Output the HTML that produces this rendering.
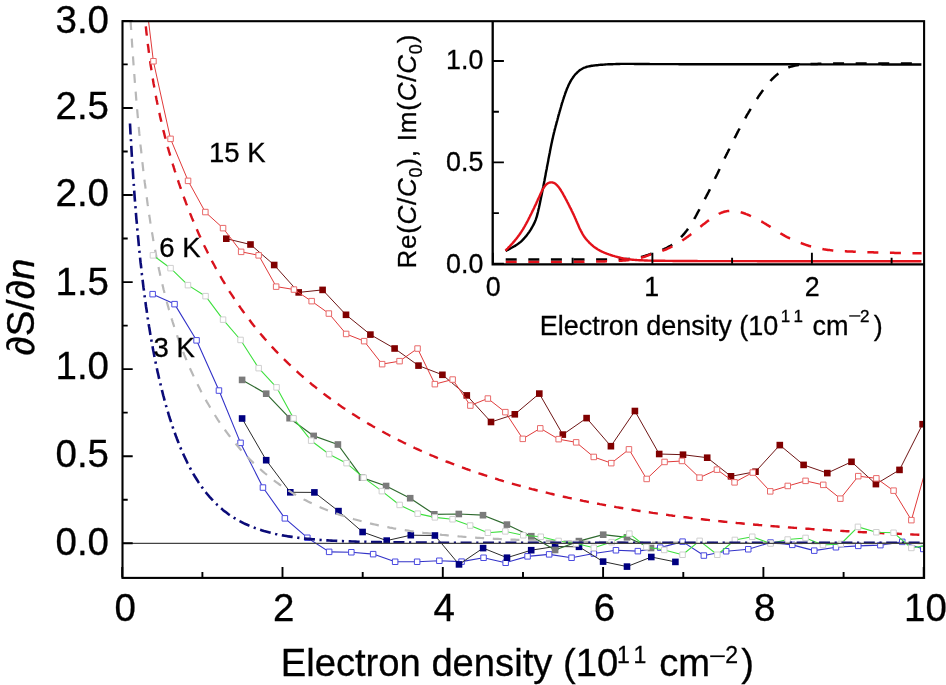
<!DOCTYPE html>
<html><head><meta charset="utf-8"><style>
html,body{margin:0;padding:0;width:946px;height:685px;overflow:hidden;background:#fff}
svg text{stroke:#000;stroke-width:0.3px;paint-order:fill}
</style></head><body>
<svg width="946" height="685" viewBox="0 0 946 685" style="position:absolute;left:0;top:0;will-change:transform"><rect width="946" height="685" fill="#fff"/><defs><clipPath id="cp"><rect x="122.2" y="21.0" width="801.5999999999999" height="556.4"/></clipPath><clipPath id="ci"><rect x="492.9" y="21.0" width="430.9" height="242.8"/></clipPath></defs><g clip-path="url(#cp)" fill="none" stroke-linejoin="round"><polyline points="152.7,294.2 174.6,304.1 196.5,340.3 219.0,390.5 240.5,442.9 263.0,487.5 284.9,518.4 307.3,537.7 329.2,551.9 351.4,552.2 373.2,554.1 395.1,561.8 417.2,561.8 439.3,560.8 461.5,561.6 483.5,557.7 505.6,562.7 527.5,556.4 549.1,554.4 571.5,557.7 593.9,553.5 616.0,550.2 637.9,551.1 660.3,547.6 682.5,541.6 703.9,555.5 726.1,551.2 748.3,549.2 770.5,542.5 792.3,544.9 814.2,550.6 836.0,547.2 858.3,545.9 880.4,545.1 902.2,541.9 923.2,549.0" stroke="#3333c8" stroke-width="1.1"/><g fill="#fff" stroke="#4a4ae0" stroke-width="1"><rect x="149.9" y="291.4" width="5.5" height="5.5"/><rect x="171.8" y="301.4" width="5.5" height="5.5"/><rect x="193.8" y="337.6" width="5.5" height="5.5"/><rect x="216.2" y="387.8" width="5.5" height="5.5"/><rect x="237.8" y="440.1" width="5.5" height="5.5"/><rect x="260.2" y="484.8" width="5.5" height="5.5"/><rect x="282.1" y="515.6" width="5.5" height="5.5"/><rect x="304.6" y="535.0" width="5.5" height="5.5"/><rect x="326.4" y="549.1" width="5.5" height="5.5"/><rect x="348.6" y="549.5" width="5.5" height="5.5"/><rect x="370.4" y="551.4" width="5.5" height="5.5"/><rect x="392.4" y="559.0" width="5.5" height="5.5"/><rect x="414.4" y="559.0" width="5.5" height="5.5"/><rect x="436.6" y="558.0" width="5.5" height="5.5"/><rect x="458.8" y="558.9" width="5.5" height="5.5"/><rect x="480.8" y="555.0" width="5.5" height="5.5"/><rect x="502.9" y="560.0" width="5.5" height="5.5"/><rect x="524.8" y="553.6" width="5.5" height="5.5"/><rect x="546.4" y="551.6" width="5.5" height="5.5"/><rect x="568.8" y="555.0" width="5.5" height="5.5"/><rect x="591.1" y="550.8" width="5.5" height="5.5"/><rect x="613.2" y="547.5" width="5.5" height="5.5"/><rect x="635.1" y="548.4" width="5.5" height="5.5"/><rect x="657.5" y="544.9" width="5.5" height="5.5"/><rect x="679.8" y="538.9" width="5.5" height="5.5"/><rect x="701.1" y="552.8" width="5.5" height="5.5"/><rect x="723.4" y="548.5" width="5.5" height="5.5"/><rect x="745.5" y="546.5" width="5.5" height="5.5"/><rect x="767.8" y="539.8" width="5.5" height="5.5"/><rect x="789.5" y="542.1" width="5.5" height="5.5"/><rect x="811.5" y="547.9" width="5.5" height="5.5"/><rect x="833.2" y="544.5" width="5.5" height="5.5"/><rect x="855.5" y="543.1" width="5.5" height="5.5"/><rect x="877.6" y="542.4" width="5.5" height="5.5"/><rect x="899.5" y="539.1" width="5.5" height="5.5"/><rect x="920.5" y="546.2" width="5.5" height="5.5"/></g><polyline points="242.1,418.5 266.2,460.2 290.3,492.3 314.4,492.4 338.5,511.1 362.6,532.0 386.7,540.6 410.8,535.2 434.9,535.5 459.0,564.4 483.1,548.1 507.0,557.7 531.2,550.2 555.1,546.5 579.0,546.8 603.1,561.6 627.0,566.6 651.3,557.0 675.4,561.9" stroke="#2a2a2a" stroke-width="1"/><g fill="#000080" stroke="none"><rect x="238.8" y="415.2" width="6.6" height="6.6"/><rect x="262.9" y="456.9" width="6.6" height="6.6"/><rect x="287.0" y="489.0" width="6.6" height="6.6"/><rect x="311.1" y="489.1" width="6.6" height="6.6"/><rect x="335.2" y="507.8" width="6.6" height="6.6"/><rect x="359.3" y="528.7" width="6.6" height="6.6"/><rect x="383.4" y="537.3" width="6.6" height="6.6"/><rect x="407.5" y="531.9" width="6.6" height="6.6"/><rect x="431.6" y="532.2" width="6.6" height="6.6"/><rect x="455.7" y="561.1" width="6.6" height="6.6"/><rect x="479.8" y="544.8" width="6.6" height="6.6"/><rect x="503.7" y="554.4" width="6.6" height="6.6"/><rect x="527.9" y="546.9" width="6.6" height="6.6"/><rect x="551.8" y="543.2" width="6.6" height="6.6"/><rect x="575.7" y="543.5" width="6.6" height="6.6"/><rect x="599.8" y="558.3" width="6.6" height="6.6"/><rect x="623.7" y="563.3" width="6.6" height="6.6"/><rect x="648.0" y="553.7" width="6.6" height="6.6"/><rect x="672.1" y="558.6" width="6.6" height="6.6"/></g><path d="M130.6,21.0 L130.9,26.2 L131.3,31.2 L131.6,36.1 L131.9,41.0 L132.2,45.8 L132.6,50.5 L132.9,55.1 L133.2,59.7 L133.5,64.1 L133.9,68.5 L134.2,72.8 L134.5,77.1 L134.8,81.3 L135.1,85.4 L135.5,89.4 L135.8,93.4 L136.1,97.3 L136.4,101.2 L136.8,105.0 L137.1,108.7 L137.4,112.4 L137.7,116.0 L138.1,119.5 L138.4,123.0 L138.7,126.5 L139.0,129.9 L139.3,133.2 L139.7,136.5 L140.0,139.7 L140.3,142.9 L140.6,146.1 L141.0,149.2 L141.3,152.2 L141.6,155.2 L141.9,158.2 L142.2,161.1 L142.6,163.9 L142.9,166.8 L143.2,169.6 L143.5,172.3 L143.9,175.0 L144.2,177.7 L144.5,180.3 L144.8,182.9 L145.2,185.5 L145.5,188.0 L145.8,190.5 L146.1,193.0 L146.4,195.4 L146.8,197.8 L147.1,200.1 L147.4,202.5 L147.7,204.7 L148.1,207.0 L148.4,209.2 L148.7,211.5 L149.0,213.6 L149.3,215.8 L149.7,217.9 L150.0,220.0 L150.3,222.1 L150.6,224.1 L151.0,226.1 L151.3,228.1 L151.6,230.1 L151.9,232.0 L152.3,233.9 L152.6,235.8 L152.9,237.7 L153.2,239.6 L153.5,241.4 L153.9,243.2 L154.2,245.0 L154.5,246.8 L154.8,248.5 L155.2,250.2 L155.5,251.9 L155.8,253.6 L156.1,255.3 L156.4,256.9 L156.8,258.6 L157.1,260.2 L157.4,261.8 L157.7,263.4 L158.1,264.9 L158.4,266.5 L158.7,268.0 L159.0,269.5 L159.4,271.0 L159.7,272.5 L160.0,274.0 L160.3,275.4 L160.6,276.8 L161.0,278.3 L161.3,279.7 L161.6,281.1 L161.9,282.5 L162.3,283.8 L162.6,285.2 L162.9,286.5 L163.2,287.8 L163.5,289.2 L163.9,290.5 L164.2,291.8 L164.5,293.0 L164.8,294.3 L165.2,295.6 L165.5,296.8 L165.8,298.0 L166.1,299.3 L166.5,300.5 L166.8,301.7 L167.1,302.9 L167.4,304.1 L167.7,305.2 L168.1,306.4 L168.4,307.5 L168.7,308.7 L169.0,309.8 L169.4,310.9 L169.7,312.1 L170.0,313.2 L170.3,314.3 L170.6,315.3 L171.0,316.4 L171.3,317.5 L171.6,318.5 L171.9,319.6 L172.3,320.6 L172.6,321.7 L172.9,322.7 L173.2,323.7 L173.6,324.8 L173.9,325.8 L174.2,326.8 L174.5,327.7 L174.8,328.7 L175.2,329.7 L175.5,330.7 L175.8,331.6 L176.1,332.6 L176.5,333.6 L176.8,334.5 L177.1,335.4 L177.4,336.4 L177.7,337.3 L178.1,338.2 L178.4,339.1 L178.7,340.0 L180.6,345.1 L182.5,350.1 L184.3,354.8 L186.2,359.4 L188.1,363.9 L189.9,368.2 L191.8,372.3 L193.7,376.4 L195.5,380.3 L197.4,384.1 L199.3,387.8 L201.1,391.4 L203.0,394.9 L204.9,398.3 L206.7,401.6 L208.6,404.8 L210.5,408.0 L212.3,411.1 L214.2,414.0 L216.1,417.0 L217.9,419.8 L219.8,422.6 L221.7,425.3 L223.5,427.9 L225.4,430.5 L227.3,433.1 L229.1,435.5 L231.0,437.9 L232.9,440.3 L234.7,442.6 L236.6,444.8 L238.5,447.0 L240.3,449.2 L242.2,451.2 L244.1,453.3 L245.9,455.3 L247.8,457.3 L249.7,459.2 L251.5,461.0 L253.4,462.9 L255.3,464.6 L257.1,466.4 L259.0,468.1 L260.9,469.8 L262.7,471.4 L264.6,473.0 L266.5,474.5 L268.3,476.1 L270.2,477.6 L272.1,479.0 L273.9,480.4 L275.8,481.8 L277.7,483.2 L279.5,484.5 L281.4,485.8 L283.3,487.1 L285.1,488.3 L287.0,489.6 L288.9,490.8 L290.7,491.9 L292.6,493.1 L294.5,494.2 L296.3,495.3 L298.2,496.3 L300.1,497.4 L301.9,498.4 L303.8,499.4 L305.7,500.3 L307.5,501.3 L309.4,502.2 L311.3,503.1 L313.2,504.0 L315.0,504.9 L316.9,505.7 L318.8,506.6 L320.6,507.4 L322.5,508.2 L324.4,509.0 L326.2,509.7 L328.1,510.5 L330.0,511.2 L331.8,511.9 L333.7,512.6 L335.6,513.3 L337.4,513.9 L339.3,514.6 L341.2,515.2 L343.0,515.8 L344.9,516.4 L346.8,517.0 L348.6,517.6 L350.5,518.2 L352.4,518.7 L354.2,519.3 L356.1,519.8 L358.0,520.3 L359.8,520.8 L361.7,521.3 L363.6,521.8 L365.4,522.3 L367.3,522.8 L369.2,523.2 L371.0,523.7 L372.9,524.1 L374.8,524.5 L376.6,524.9 L378.5,525.3 L380.4,525.7 L382.2,526.1 L384.1,526.5 L386.0,526.9 L387.8,527.2 L389.7,527.6 L391.6,527.9 L393.4,528.3 L395.3,528.6 L397.2,528.9 L399.0,529.2 L400.9,529.5 L402.8,529.8 L404.6,530.1 L406.5,530.4 L408.4,530.7 L410.2,531.0 L412.1,531.3 L414.0,531.5 L415.8,531.8 L417.7,532.0 L419.6,532.3 L421.4,532.5 L423.3,532.8 L425.2,533.0 L427.0,533.2 L428.9,533.4 L430.8,533.7 L432.6,533.9 L434.5,534.1 L436.4,534.3 L438.2,534.5 L440.1,534.7 L442.0,534.9 L443.8,535.0 L445.7,535.2 L447.6,535.4 L449.5,535.6 L451.3,535.7 L453.2,535.9 L455.1,536.1 L456.9,536.2 L458.8,536.4 L460.7,536.5 L462.5,536.7 L464.4,536.8 L466.3,537.0 L468.1,537.1 L470.0,537.2 L471.9,537.4 L473.7,537.5 L475.6,537.6 L477.5,537.8 L479.3,537.9 L481.2,538.0 L483.1,538.1 L484.9,538.2 L486.8,538.3 L488.7,538.4 L490.5,538.5 L492.4,538.6 L494.3,538.8 L496.1,538.8 L498.0,538.9 L499.9,539.0 L501.7,539.1 L503.6,539.2 L505.5,539.3 L507.3,539.4 L509.2,539.5 L511.1,539.6 L512.9,539.6 L514.8,539.7 L516.7,539.8 L518.5,539.9 L520.4,539.9 L522.3,540.0 L524.1,540.1 L526.0,540.2 L527.9,540.2 L529.7,540.3 L531.6,540.4 L533.5,540.4 L535.3,540.5 L537.2,540.5 L539.1,540.6 L540.9,540.7 L542.8,540.7 L544.7,540.8 L546.5,540.8 L548.4,540.9 L550.3,540.9 L552.1,541.0 L554.0,541.0 L555.9,541.1 L557.7,541.1 L559.6,541.2 L561.5,541.2 L563.3,541.3 L565.2,541.3 L567.1,541.3 L568.9,541.4 L570.8,541.4 L572.7,541.5 L574.5,541.5 L576.4,541.5 L578.3,541.6 L580.1,541.6 L582.0,541.6 L583.9,541.7 L585.8,541.7 L587.6,541.8 L589.5,541.8 L591.4,541.8 L593.2,541.8 L595.1,541.9 L597.0,541.9 L598.8,541.9 L600.7,542.0 L602.6,542.0 L604.4,542.0 L606.3,542.0 L608.2,542.1 L610.0,542.1 L611.9,542.1 L613.8,542.1 L615.6,542.2 L617.5,542.2 L619.4,542.2 L621.2,542.2 L623.1,542.3 L625.0,542.3 L626.8,542.3 L628.7,542.3 L630.6,542.3 L632.4,542.4 L634.3,542.4 L636.2,542.4 L638.0,542.4 L639.9,542.4 L641.8,542.4 L643.6,542.5 L645.5,542.5 L647.4,542.5 L649.2,542.5 L651.1,542.5 L653.0,542.5 L654.8,542.6 L656.7,542.6 L658.6,542.6 L660.4,542.6 L662.3,542.6 L664.2,542.6 L666.0,542.6 L667.9,542.6 L669.8,542.7 L671.6,542.7 L673.5,542.7 L675.4,542.7 L677.2,542.7 L679.1,542.7 L681.0,542.7 L682.8,542.7 L684.7,542.7 L686.6,542.8 L688.4,542.8 L690.3,542.8 L692.2,542.8 L694.0,542.8 L695.9,542.8 L697.8,542.8 L699.6,542.8 L701.5,542.8 L703.4,542.8 L705.2,542.8 L707.1,542.9 L709.0,542.9 L710.8,542.9 L712.7,542.9 L714.6,542.9 L716.4,542.9 L718.3,542.9 L720.2,542.9 L722.1,542.9 L723.9,542.9 L725.8,542.9 L727.7,542.9 L729.5,542.9 L731.4,542.9 L733.3,542.9 L735.1,543.0 L737.0,543.0 L738.9,543.0 L740.7,543.0 L742.6,543.0 L744.5,543.0 L746.3,543.0 L748.2,543.0 L750.1,543.0 L751.9,543.0 L753.8,543.0 L755.7,543.0 L757.5,543.0 L759.4,543.0 L761.3,543.0 L763.1,543.0 L765.0,543.0 L766.9,543.0 L768.7,543.0 L770.6,543.0 L772.5,543.0 L774.3,543.0 L776.2,543.0 L778.1,543.1 L779.9,543.1 L781.8,543.1 L783.7,543.1 L785.5,543.1 L787.4,543.1 L789.3,543.1 L791.1,543.1 L793.0,543.1 L794.9,543.1 L796.7,543.1 L798.6,543.1 L800.5,543.1 L802.3,543.1 L804.2,543.1 L806.1,543.1 L807.9,543.1 L809.8,543.1 L811.7,543.1 L813.5,543.1 L815.4,543.1 L817.3,543.1 L819.1,543.1 L821.0,543.1 L822.9,543.1 L824.7,543.1 L826.6,543.1 L828.5,543.1 L830.3,543.1 L832.2,543.1 L834.1,543.1 L835.9,543.1 L837.8,543.1 L839.7,543.1 L841.5,543.1 L843.4,543.1 L845.3,543.1 L847.1,543.1 L849.0,543.1 L850.9,543.1 L852.7,543.1 L854.6,543.1 L856.5,543.1 L858.4,543.1 L860.2,543.1 L862.1,543.1 L864.0,543.1 L865.8,543.1 L867.7,543.1 L869.6,543.2 L871.4,543.2 L873.3,543.2 L875.2,543.2 L877.0,543.2 L878.9,543.2 L880.8,543.2 L882.6,543.2 L884.5,543.2 L886.4,543.2 L888.2,543.2 L890.1,543.2 L892.0,543.2 L893.8,543.2 L895.7,543.2 L897.6,543.2 L899.4,543.2 L901.3,543.2 L903.2,543.2 L905.0,543.2 L906.9,543.2 L908.8,543.2 L910.6,543.2 L912.5,543.2 L914.4,543.2 L916.2,543.2 L918.1,543.2 L920.0,543.2 L921.8,543.2 L923.7,543.2" stroke="#b8b8b8" stroke-width="2.2" stroke-dasharray="9 8.7"/><path d="M145.2,21.0 L145.6,24.1 L145.9,27.2 L146.2,30.2 L146.5,33.1 L146.9,35.9 L147.2,38.7 L147.5,41.4 L147.8,44.1 L148.2,46.7 L148.5,49.2 L148.8,51.7 L149.1,54.1 L149.4,56.5 L149.8,58.8 L150.1,61.1 L150.4,63.4 L150.7,65.6 L151.1,67.8 L151.4,69.9 L151.7,72.0 L152.0,74.0 L152.3,76.0 L152.7,78.0 L153.0,80.0 L153.3,81.9 L153.6,83.8 L154.0,85.6 L154.3,87.4 L154.6,89.2 L154.9,91.0 L155.3,92.8 L155.6,94.5 L155.9,96.2 L156.2,97.9 L156.5,99.5 L156.9,101.1 L157.2,102.8 L157.5,104.3 L157.8,105.9 L158.2,107.5 L158.5,109.0 L158.8,110.5 L159.1,112.0 L159.5,113.5 L159.8,114.9 L160.1,116.4 L160.4,117.8 L160.7,119.2 L161.1,120.6 L161.4,122.0 L161.7,123.4 L162.0,124.8 L162.4,126.1 L162.7,127.4 L163.0,128.8 L163.3,130.1 L163.6,131.4 L164.0,132.7 L164.3,133.9 L164.6,135.2 L164.9,136.5 L165.3,137.7 L165.6,138.9 L165.9,140.2 L166.2,141.4 L166.6,142.6 L166.9,143.8 L167.2,145.0 L167.5,146.1 L167.8,147.3 L168.2,148.5 L168.5,149.6 L168.8,150.8 L169.1,151.9 L169.5,153.0 L169.8,154.1 L170.1,155.3 L170.4,156.4 L170.7,157.5 L171.1,158.6 L171.4,159.6 L171.7,160.7 L172.0,161.8 L172.4,162.8 L172.7,163.9 L173.0,165.0 L173.3,166.0 L173.7,167.0 L174.0,168.1 L174.3,169.1 L174.6,170.1 L174.9,171.1 L175.3,172.1 L175.6,173.1 L175.9,174.1 L176.2,175.1 L176.6,176.1 L176.9,177.1 L177.2,178.1 L177.5,179.1 L177.8,180.0 L178.2,181.0 L178.5,181.9 L178.8,182.9 L179.1,183.8 L179.5,184.8 L179.8,185.7 L180.1,186.6 L180.4,187.6 L180.8,188.5 L181.1,189.4 L181.4,190.3 L181.7,191.2 L182.0,192.1 L182.4,193.0 L182.7,193.9 L183.0,194.8 L183.3,195.7 L183.7,196.6 L184.0,197.5 L184.3,198.3 L184.6,199.2 L184.9,200.1 L185.3,200.9 L185.6,201.8 L185.9,202.7 L186.2,203.5 L186.6,204.4 L186.9,205.2 L187.2,206.0 L187.5,206.9 L187.9,207.7 L188.2,208.5 L188.5,209.4 L188.8,210.2 L189.1,211.0 L189.5,211.8 L189.8,212.6 L190.1,213.4 L190.4,214.2 L190.8,215.0 L191.1,215.8 L191.4,216.6 L191.7,217.4 L192.0,218.2 L192.4,219.0 L192.7,219.7 L193.0,220.5 L193.3,221.3 L195.2,225.6 L197.0,229.8 L198.8,233.9 L200.7,238.0 L202.5,241.9 L204.3,245.8 L206.2,249.5 L208.0,253.2 L209.8,256.8 L211.6,260.4 L213.5,263.8 L215.3,267.2 L217.1,270.5 L219.0,273.8 L220.8,277.0 L222.6,280.1 L224.5,283.2 L226.3,286.2 L228.1,289.2 L229.9,292.1 L231.8,294.9 L233.6,297.7 L235.4,300.5 L237.3,303.2 L239.1,305.8 L240.9,308.4 L242.8,311.0 L244.6,313.5 L246.4,316.0 L248.3,318.4 L250.1,320.8 L251.9,323.2 L253.7,325.5 L255.6,327.8 L257.4,330.1 L259.2,332.3 L261.1,334.5 L262.9,336.6 L264.7,338.7 L266.6,340.8 L268.4,342.9 L270.2,344.9 L272.0,346.9 L273.9,348.9 L275.7,350.8 L277.5,352.7 L279.4,354.6 L281.2,356.5 L283.0,358.3 L284.9,360.1 L286.7,361.9 L288.5,363.7 L290.4,365.4 L292.2,367.2 L294.0,368.9 L295.8,370.5 L297.7,372.2 L299.5,373.8 L301.3,375.4 L303.2,377.0 L305.0,378.6 L306.8,380.2 L308.7,381.7 L310.5,383.2 L312.3,384.8 L314.2,386.2 L316.0,387.7 L317.8,389.2 L319.6,390.6 L321.5,392.0 L323.3,393.4 L325.1,394.8 L327.0,396.2 L328.8,397.5 L330.6,398.9 L332.5,400.2 L334.3,401.5 L336.1,402.8 L337.9,404.1 L339.8,405.4 L341.6,406.7 L343.4,407.9 L345.3,409.1 L347.1,410.4 L348.9,411.6 L350.8,412.8 L352.6,413.9 L354.4,415.1 L356.3,416.3 L358.1,417.4 L359.9,418.6 L361.7,419.7 L363.6,420.8 L365.4,421.9 L367.2,423.0 L369.1,424.1 L370.9,425.1 L372.7,426.2 L374.6,427.3 L376.4,428.3 L378.2,429.3 L380.0,430.3 L381.9,431.3 L383.7,432.3 L385.5,433.3 L387.4,434.3 L389.2,435.3 L391.0,436.2 L392.9,437.2 L394.7,438.1 L396.5,439.1 L398.4,440.0 L400.2,440.9 L402.0,441.8 L403.8,442.7 L405.7,443.6 L407.5,444.5 L409.3,445.4 L411.2,446.2 L413.0,447.1 L414.8,448.0 L416.7,448.8 L418.5,449.6 L420.3,450.5 L422.1,451.3 L424.0,452.1 L425.8,452.9 L427.6,453.7 L429.5,454.5 L431.3,455.3 L433.1,456.0 L435.0,456.8 L436.8,457.6 L438.6,458.3 L440.5,459.1 L442.3,459.8 L444.1,460.5 L445.9,461.3 L447.8,462.0 L449.6,462.7 L451.4,463.4 L453.3,464.1 L455.1,464.8 L456.9,465.5 L458.8,466.2 L460.6,466.9 L462.4,467.5 L464.2,468.2 L466.1,468.9 L467.9,469.5 L469.7,470.2 L471.6,470.8 L473.4,471.4 L475.2,472.1 L477.1,472.7 L478.9,473.3 L480.7,473.9 L482.6,474.5 L484.4,475.1 L486.2,475.7 L488.0,476.3 L489.9,476.9 L491.7,477.5 L493.5,478.1 L495.4,478.6 L497.2,479.2 L499.0,479.8 L500.9,480.3 L502.7,480.9 L504.5,481.4 L506.4,482.0 L508.2,482.5 L510.0,483.0 L511.8,483.6 L513.7,484.1 L515.5,484.6 L517.3,485.1 L519.2,485.6 L521.0,486.1 L522.8,486.6 L524.7,487.1 L526.5,487.6 L528.3,488.1 L530.1,488.6 L532.0,489.1 L533.8,489.5 L535.6,490.0 L537.5,490.5 L539.3,490.9 L541.1,491.4 L543.0,491.8 L544.8,492.3 L546.6,492.7 L548.5,493.2 L550.3,493.6 L552.1,494.0 L553.9,494.5 L555.8,494.9 L557.6,495.3 L559.4,495.7 L561.3,496.2 L563.1,496.6 L564.9,497.0 L566.8,497.4 L568.6,497.8 L570.4,498.2 L572.2,498.6 L574.1,499.0 L575.9,499.4 L577.7,499.7 L579.6,500.1 L581.4,500.5 L583.2,500.9 L585.1,501.2 L586.9,501.6 L588.7,502.0 L590.6,502.3 L592.4,502.7 L594.2,503.0 L596.0,503.4 L597.9,503.7 L599.7,504.1 L601.5,504.4 L603.4,504.8 L605.2,505.1 L607.0,505.4 L608.9,505.8 L610.7,506.1 L612.5,506.4 L614.3,506.7 L616.2,507.1 L618.0,507.4 L619.8,507.7 L621.7,508.0 L623.5,508.3 L625.3,508.6 L627.2,508.9 L629.0,509.2 L630.8,509.5 L632.7,509.8 L634.5,510.1 L636.3,510.4 L638.1,510.7 L640.0,511.0 L641.8,511.2 L643.6,511.5 L645.5,511.8 L647.3,512.1 L649.1,512.3 L651.0,512.6 L652.8,512.9 L654.6,513.1 L656.5,513.4 L658.3,513.7 L660.1,513.9 L661.9,514.2 L663.8,514.4 L665.6,514.7 L667.4,514.9 L669.3,515.2 L671.1,515.4 L672.9,515.7 L674.8,515.9 L676.6,516.2 L678.4,516.4 L680.2,516.6 L682.1,516.9 L683.9,517.1 L685.7,517.3 L687.6,517.5 L689.4,517.8 L691.2,518.0 L693.1,518.2 L694.9,518.4 L696.7,518.6 L698.6,518.9 L700.4,519.1 L702.2,519.3 L704.0,519.5 L705.9,519.7 L707.7,519.9 L709.5,520.1 L711.4,520.3 L713.2,520.5 L715.0,520.7 L716.9,520.9 L718.7,521.1 L720.5,521.3 L722.3,521.5 L724.2,521.7 L726.0,521.9 L727.8,522.0 L729.7,522.2 L731.5,522.4 L733.3,522.6 L735.2,522.8 L737.0,523.0 L738.8,523.1 L740.7,523.3 L742.5,523.5 L744.3,523.7 L746.1,523.8 L748.0,524.0 L749.8,524.2 L751.6,524.3 L753.5,524.5 L755.3,524.7 L757.1,524.8 L759.0,525.0 L760.8,525.1 L762.6,525.3 L764.4,525.5 L766.3,525.6 L768.1,525.8 L769.9,525.9 L771.8,526.1 L773.6,526.2 L775.4,526.4 L777.3,526.5 L779.1,526.7 L780.9,526.8 L782.8,526.9 L784.6,527.1 L786.4,527.2 L788.2,527.4 L790.1,527.5 L791.9,527.6 L793.7,527.8 L795.6,527.9 L797.4,528.0 L799.2,528.2 L801.1,528.3 L802.9,528.4 L804.7,528.6 L806.5,528.7 L808.4,528.8 L810.2,528.9 L812.0,529.1 L813.9,529.2 L815.7,529.3 L817.5,529.4 L819.4,529.6 L821.2,529.7 L823.0,529.8 L824.9,529.9 L826.7,530.0 L828.5,530.1 L830.3,530.3 L832.2,530.4 L834.0,530.5 L835.8,530.6 L837.7,530.7 L839.5,530.8 L841.3,530.9 L843.2,531.0 L845.0,531.1 L846.8,531.2 L848.7,531.3 L850.5,531.5 L852.3,531.6 L854.1,531.7 L856.0,531.8 L857.8,531.9 L859.6,532.0 L861.5,532.1 L863.3,532.2 L865.1,532.2 L867.0,532.3 L868.8,532.4 L870.6,532.5 L872.4,532.6 L874.3,532.7 L876.1,532.8 L877.9,532.9 L879.8,533.0 L881.6,533.1 L883.4,533.2 L885.3,533.3 L887.1,533.3 L888.9,533.4 L890.8,533.5 L892.6,533.6 L894.4,533.7 L896.2,533.8 L898.1,533.8 L899.9,533.9 L901.7,534.0 L903.6,534.1 L905.4,534.2 L907.2,534.3 L909.1,534.3 L910.9,534.4 L912.7,534.5 L914.5,534.6 L916.4,534.6 L918.2,534.7 L920.0,534.8 L921.9,534.9 L923.7,534.9" stroke="#d8121c" stroke-width="2.4" stroke-dasharray="9.2 8.3" stroke-dashoffset="-5.5"/><polyline points="242.1,379.9 266.2,393.7 289.6,418.2 313.7,435.9 337.9,444.5 362.0,477.6 386.1,486.0 410.2,498.2 434.3,514.3 458.8,514.0 483.0,515.2 506.9,524.6 531.3,536.2 555.1,550.0 578.9,541.1 603.2,534.7 627.0,537.3 651.0,548.0" stroke="#2f6a2f" stroke-width="1.2"/><g fill="#7b7b7b" stroke="none"><rect x="238.8" y="376.6" width="6.6" height="6.6"/><rect x="262.9" y="390.4" width="6.6" height="6.6"/><rect x="286.3" y="414.9" width="6.6" height="6.6"/><rect x="310.4" y="432.6" width="6.6" height="6.6"/><rect x="334.6" y="441.2" width="6.6" height="6.6"/><rect x="358.7" y="474.3" width="6.6" height="6.6"/><rect x="382.8" y="482.7" width="6.6" height="6.6"/><rect x="406.9" y="494.9" width="6.6" height="6.6"/><rect x="431.0" y="511.0" width="6.6" height="6.6"/><rect x="455.5" y="510.7" width="6.6" height="6.6"/><rect x="479.7" y="511.9" width="6.6" height="6.6"/><rect x="503.6" y="521.3" width="6.6" height="6.6"/><rect x="528.0" y="532.9" width="6.6" height="6.6"/><rect x="551.8" y="546.7" width="6.6" height="6.6"/><rect x="575.6" y="537.8" width="6.6" height="6.6"/><rect x="599.9" y="531.4" width="6.6" height="6.6"/><rect x="623.7" y="534.0" width="6.6" height="6.6"/><rect x="647.7" y="544.7" width="6.6" height="6.6"/></g><polyline points="153.0,255.3 170.5,268.2 188.0,285.1 205.6,296.2 223.1,319.6 240.6,340.0 258.7,368.2 276.5,387.3 293.5,418.3 311.2,440.7 329.2,454.2 346.5,463.2 363.6,477.6 381.9,491.1 399.6,505.0 417.6,513.6 434.9,517.4 452.5,519.3 470.1,525.5 487.8,532.7 505.3,531.4 523.3,535.3 540.8,536.8 558.5,541.0 576.0,543.5 593.9,547.8 611.6,542.1 629.4,533.6 646.4,547.0 664.3,550.0 682.5,554.7 699.6,540.9 717.4,554.7 734.9,540.0 752.3,536.8 770.5,543.5 787.6,539.5 805.5,538.0 823.0,545.0 840.8,544.0 858.0,526.9 876.4,532.2 893.5,532.7 911.4,548.0 929.0,545.0" stroke="#3ee03e" stroke-width="1.1"/><g fill="#fff" stroke="#cfcfcf" stroke-width="1"><rect x="150.2" y="252.6" width="5.5" height="5.5"/><rect x="167.8" y="265.4" width="5.5" height="5.5"/><rect x="185.2" y="282.4" width="5.5" height="5.5"/><rect x="202.8" y="293.4" width="5.5" height="5.5"/><rect x="220.3" y="316.9" width="5.5" height="5.5"/><rect x="237.8" y="337.2" width="5.5" height="5.5"/><rect x="255.9" y="365.4" width="5.5" height="5.5"/><rect x="273.8" y="384.6" width="5.5" height="5.5"/><rect x="290.8" y="415.6" width="5.5" height="5.5"/><rect x="308.4" y="437.9" width="5.5" height="5.5"/><rect x="326.4" y="451.4" width="5.5" height="5.5"/><rect x="343.8" y="460.4" width="5.5" height="5.5"/><rect x="360.9" y="474.9" width="5.5" height="5.5"/><rect x="379.1" y="488.4" width="5.5" height="5.5"/><rect x="396.9" y="502.2" width="5.5" height="5.5"/><rect x="414.9" y="510.9" width="5.5" height="5.5"/><rect x="432.1" y="514.6" width="5.5" height="5.5"/><rect x="449.8" y="516.5" width="5.5" height="5.5"/><rect x="467.4" y="522.8" width="5.5" height="5.5"/><rect x="485.1" y="530.0" width="5.5" height="5.5"/><rect x="502.6" y="528.6" width="5.5" height="5.5"/><rect x="520.5" y="532.5" width="5.5" height="5.5"/><rect x="538.0" y="534.0" width="5.5" height="5.5"/><rect x="555.8" y="538.2" width="5.5" height="5.5"/><rect x="573.2" y="540.8" width="5.5" height="5.5"/><rect x="591.1" y="545.0" width="5.5" height="5.5"/><rect x="608.9" y="539.4" width="5.5" height="5.5"/><rect x="626.6" y="530.9" width="5.5" height="5.5"/><rect x="643.6" y="544.2" width="5.5" height="5.5"/><rect x="661.5" y="547.2" width="5.5" height="5.5"/><rect x="679.8" y="552.0" width="5.5" height="5.5"/><rect x="696.9" y="538.1" width="5.5" height="5.5"/><rect x="714.6" y="552.0" width="5.5" height="5.5"/><rect x="732.1" y="537.2" width="5.5" height="5.5"/><rect x="749.5" y="534.0" width="5.5" height="5.5"/><rect x="767.8" y="540.8" width="5.5" height="5.5"/><rect x="784.9" y="536.8" width="5.5" height="5.5"/><rect x="802.8" y="535.2" width="5.5" height="5.5"/><rect x="820.2" y="542.2" width="5.5" height="5.5"/><rect x="838.0" y="541.2" width="5.5" height="5.5"/><rect x="855.2" y="524.1" width="5.5" height="5.5"/><rect x="873.6" y="529.5" width="5.5" height="5.5"/><rect x="890.8" y="530.0" width="5.5" height="5.5"/><rect x="908.6" y="545.2" width="5.5" height="5.5"/></g><polyline points="226.3,238.7 250.5,244.5 274.2,265.0 298.7,292.4 322.6,289.9 346.0,314.8 370.4,334.6 394.6,348.5 418.5,365.6 442.4,374.8 466.8,395.4 491.0,422.0 514.8,414.3 539.3,393.6 562.8,434.6 586.6,418.1 610.9,446.2 634.9,411.0 659.2,454.0 683.0,454.7 707.2,457.7 731.0,476.3 755.5,471.7 779.8,445.1 803.6,464.9 827.3,473.1 851.5,461.8 875.9,484.1 899.5,469.9 922.6,424.2" stroke="#6e1515" stroke-width="1"/><g fill="#800000" stroke="none"><rect x="223.0" y="235.4" width="6.6" height="6.6"/><rect x="247.2" y="241.2" width="6.6" height="6.6"/><rect x="270.9" y="261.7" width="6.6" height="6.6"/><rect x="295.4" y="289.1" width="6.6" height="6.6"/><rect x="319.3" y="286.6" width="6.6" height="6.6"/><rect x="342.7" y="311.5" width="6.6" height="6.6"/><rect x="367.1" y="331.3" width="6.6" height="6.6"/><rect x="391.3" y="345.2" width="6.6" height="6.6"/><rect x="415.2" y="362.3" width="6.6" height="6.6"/><rect x="439.1" y="371.5" width="6.6" height="6.6"/><rect x="463.5" y="392.1" width="6.6" height="6.6"/><rect x="487.7" y="418.7" width="6.6" height="6.6"/><rect x="511.5" y="411.0" width="6.6" height="6.6"/><rect x="536.0" y="390.3" width="6.6" height="6.6"/><rect x="559.5" y="431.3" width="6.6" height="6.6"/><rect x="583.3" y="414.8" width="6.6" height="6.6"/><rect x="607.6" y="442.9" width="6.6" height="6.6"/><rect x="631.6" y="407.7" width="6.6" height="6.6"/><rect x="655.9" y="450.7" width="6.6" height="6.6"/><rect x="679.7" y="451.4" width="6.6" height="6.6"/><rect x="703.9" y="454.4" width="6.6" height="6.6"/><rect x="727.7" y="473.0" width="6.6" height="6.6"/><rect x="752.2" y="468.4" width="6.6" height="6.6"/><rect x="776.5" y="441.8" width="6.6" height="6.6"/><rect x="800.3" y="461.6" width="6.6" height="6.6"/><rect x="824.0" y="469.8" width="6.6" height="6.6"/><rect x="848.2" y="458.5" width="6.6" height="6.6"/><rect x="872.6" y="480.8" width="6.6" height="6.6"/><rect x="896.2" y="466.6" width="6.6" height="6.6"/><rect x="919.3" y="420.9" width="6.6" height="6.6"/></g><polyline points="148.3,19.0 153.4,61.3 170.5,138.8 188.1,180.8 205.3,212.1 223.1,228.2 241.2,251.8 258.7,255.3 276.2,286.6 294.0,289.5 311.6,301.2 328.9,313.5 346.2,334.0 364.1,341.1 382.1,364.1 399.5,361.2 417.5,348.5 434.9,384.1 452.7,379.5 470.3,405.5 487.8,398.5 505.3,412.2 522.8,438.8 540.3,428.3 558.6,439.2 576.1,442.3 593.8,457.0 611.3,463.1 629.0,449.4 646.6,479.0 664.5,462.0 682.0,461.0 699.5,477.7 717.0,469.6 734.5,482.3 752.7,472.5 770.2,491.4 787.8,486.0 805.5,480.9 823.3,484.9 840.4,498.6 858.3,476.2 876.4,478.3 893.5,490.7 911.4,520.1 929.0,458.0" stroke="#e03a3a" stroke-width="1"/><g fill="#fff" stroke="#e86a6a" stroke-width="1"><rect x="150.7" y="58.5" width="5.5" height="5.5"/><rect x="167.8" y="136.1" width="5.5" height="5.5"/><rect x="185.3" y="178.1" width="5.5" height="5.5"/><rect x="202.6" y="209.3" width="5.5" height="5.5"/><rect x="220.3" y="225.4" width="5.5" height="5.5"/><rect x="238.4" y="249.1" width="5.5" height="5.5"/><rect x="255.9" y="252.6" width="5.5" height="5.5"/><rect x="273.4" y="283.9" width="5.5" height="5.5"/><rect x="291.2" y="286.8" width="5.5" height="5.5"/><rect x="308.9" y="298.4" width="5.5" height="5.5"/><rect x="326.1" y="310.8" width="5.5" height="5.5"/><rect x="343.4" y="331.2" width="5.5" height="5.5"/><rect x="361.4" y="338.4" width="5.5" height="5.5"/><rect x="379.4" y="361.4" width="5.5" height="5.5"/><rect x="396.8" y="358.4" width="5.5" height="5.5"/><rect x="414.8" y="345.8" width="5.5" height="5.5"/><rect x="432.1" y="381.4" width="5.5" height="5.5"/><rect x="449.9" y="376.8" width="5.5" height="5.5"/><rect x="467.6" y="402.8" width="5.5" height="5.5"/><rect x="485.1" y="395.8" width="5.5" height="5.5"/><rect x="502.6" y="409.4" width="5.5" height="5.5"/><rect x="520.0" y="436.1" width="5.5" height="5.5"/><rect x="537.5" y="425.6" width="5.5" height="5.5"/><rect x="555.9" y="436.4" width="5.5" height="5.5"/><rect x="573.4" y="439.6" width="5.5" height="5.5"/><rect x="591.0" y="454.2" width="5.5" height="5.5"/><rect x="608.5" y="460.4" width="5.5" height="5.5"/><rect x="626.2" y="446.6" width="5.5" height="5.5"/><rect x="643.9" y="476.2" width="5.5" height="5.5"/><rect x="661.8" y="459.2" width="5.5" height="5.5"/><rect x="679.2" y="458.2" width="5.5" height="5.5"/><rect x="696.8" y="474.9" width="5.5" height="5.5"/><rect x="714.2" y="466.9" width="5.5" height="5.5"/><rect x="731.8" y="479.6" width="5.5" height="5.5"/><rect x="750.0" y="469.8" width="5.5" height="5.5"/><rect x="767.5" y="488.6" width="5.5" height="5.5"/><rect x="785.0" y="483.2" width="5.5" height="5.5"/><rect x="802.8" y="478.1" width="5.5" height="5.5"/><rect x="820.5" y="482.1" width="5.5" height="5.5"/><rect x="837.6" y="495.9" width="5.5" height="5.5"/><rect x="855.5" y="473.4" width="5.5" height="5.5"/><rect x="873.6" y="475.6" width="5.5" height="5.5"/><rect x="890.8" y="487.9" width="5.5" height="5.5"/><rect x="908.6" y="517.4" width="5.5" height="5.5"/></g><path d="M130.0,123.5 L130.3,129.4 L130.6,135.2 L131.0,140.8 L131.3,146.3 L131.6,151.7 L131.9,156.9 L132.2,162.0 L132.6,167.1 L132.9,171.9 L133.2,176.7 L133.5,181.4 L133.9,186.0 L134.2,190.4 L134.5,194.8 L134.8,199.1 L135.2,203.3 L135.5,207.3 L135.8,211.4 L136.1,215.3 L136.4,219.1 L136.8,222.9 L137.1,226.6 L137.4,230.2 L137.7,233.8 L138.1,237.3 L138.4,240.7 L138.7,244.0 L139.0,247.3 L139.3,250.5 L139.7,253.7 L140.0,256.8 L140.3,259.9 L140.6,262.9 L141.0,265.8 L141.3,268.7 L141.6,271.6 L141.9,274.4 L142.3,277.2 L142.6,279.9 L142.9,282.5 L143.2,285.2 L143.5,287.7 L143.9,290.3 L144.2,292.8 L144.5,295.3 L144.8,297.7 L145.2,300.1 L145.5,302.4 L145.8,304.8 L146.1,307.0 L146.5,309.3 L146.8,311.5 L147.1,313.7 L147.4,315.9 L147.7,318.0 L148.1,320.1 L148.4,322.2 L148.7,324.2 L149.0,326.2 L149.4,328.2 L149.7,330.2 L150.0,332.1 L150.3,334.1 L150.6,336.0 L151.0,337.8 L151.3,339.7 L151.6,341.5 L151.9,343.3 L152.3,345.1 L152.6,346.8 L152.9,348.6 L153.2,350.3 L153.6,352.0 L153.9,353.7 L154.2,355.3 L154.5,357.0 L154.8,358.6 L155.2,360.2 L155.5,361.8 L155.8,363.4 L156.1,364.9 L156.5,366.4 L156.8,368.0 L157.1,369.5 L157.4,370.9 L157.7,372.4 L158.1,373.9 L158.4,375.3 L158.7,376.7 L159.0,378.2 L159.4,379.5 L159.7,380.9 L160.0,382.3 L160.3,383.7 L160.7,385.0 L161.0,386.3 L161.3,387.6 L161.6,388.9 L161.9,390.2 L162.3,391.5 L162.6,392.8 L162.9,394.0 L163.2,395.3 L163.6,396.5 L163.9,397.7 L164.2,398.9 L164.5,400.1 L164.8,401.3 L165.2,402.5 L165.5,403.6 L165.8,404.8 L166.1,405.9 L166.5,407.0 L166.8,408.2 L167.1,409.3 L167.4,410.4 L167.8,411.5 L168.1,412.5 L168.4,413.6 L168.7,414.7 L169.0,415.7 L169.4,416.8 L169.7,417.8 L170.0,418.8 L170.3,419.8 L170.7,420.8 L171.0,421.8 L171.3,422.8 L171.6,423.8 L171.9,424.8 L172.3,425.7 L172.6,426.7 L172.9,427.6 L173.2,428.6 L173.6,429.5 L173.9,430.4 L174.2,431.3 L174.5,432.2 L174.9,433.1 L175.2,434.0 L175.5,434.9 L175.8,435.8 L176.1,436.7 L176.5,437.5 L176.8,438.4 L177.1,439.2 L177.4,440.1 L177.8,440.9 L178.1,441.7 L179.9,446.4 L181.8,450.8 L183.7,455.0 L185.6,459.0 L187.4,462.8 L189.3,466.5 L191.2,470.0 L193.0,473.3 L194.9,476.5 L196.8,479.5 L198.6,482.4 L200.5,485.1 L202.4,487.8 L204.2,490.3 L206.1,492.7 L208.0,495.0 L209.8,497.1 L211.7,499.2 L213.6,501.2 L215.5,503.1 L217.3,504.9 L219.2,506.6 L221.1,508.3 L222.9,509.9 L224.8,511.4 L226.7,512.8 L228.5,514.2 L230.4,515.5 L232.3,516.7 L234.1,517.9 L236.0,519.0 L237.9,520.1 L239.7,521.1 L241.6,522.1 L243.5,523.1 L245.4,524.0 L247.2,524.8 L249.1,525.6 L251.0,526.4 L252.8,527.2 L254.7,527.9 L256.6,528.6 L258.4,529.2 L260.3,529.8 L262.2,530.4 L264.0,531.0 L265.9,531.5 L267.8,532.0 L269.6,532.5 L271.5,533.0 L273.4,533.4 L275.3,533.9 L277.1,534.3 L279.0,534.7 L280.9,535.0 L282.7,535.4 L284.6,535.7 L286.5,536.0 L288.3,536.4 L290.2,536.6 L292.1,536.9 L293.9,537.2 L295.8,537.4 L297.7,537.7 L299.5,537.9 L301.4,538.1 L303.3,538.4 L305.2,538.6 L307.0,538.8 L308.9,538.9 L310.8,539.1 L312.6,539.3 L314.5,539.4 L316.4,539.6 L318.2,539.7 L320.1,539.9 L322.0,540.0 L323.8,540.1 L325.7,540.3 L327.6,540.4 L329.4,540.5 L331.3,540.6 L333.2,540.7 L335.1,540.8 L336.9,540.9 L338.8,541.0 L340.7,541.1 L342.5,541.1 L344.4,541.2 L346.3,541.3 L348.1,541.3 L350.0,541.4 L351.9,541.5 L353.7,541.5 L355.6,541.6 L357.5,541.7 L359.3,541.7 L361.2,541.8 L363.1,541.8 L365.0,541.8 L366.8,541.9 L368.7,541.9 L370.6,542.0 L372.4,542.0 L374.3,542.0 L376.2,542.1 L378.0,542.1 L379.9,542.1 L381.8,542.2 L383.6,542.2 L385.5,542.2 L387.4,542.3 L389.2,542.3 L391.1,542.3 L393.0,542.3 L394.9,542.3 L396.7,542.4 L398.6,542.4 L400.5,542.4 L402.3,542.4 L404.2,542.4 L406.1,542.5 L407.9,542.5 L409.8,542.5 L411.7,542.5 L413.5,542.5 L415.4,542.5 L417.3,542.5 L419.1,542.6 L421.0,542.6 L422.9,542.6 L424.8,542.6 L426.6,542.6 L428.5,542.6 L430.4,542.6 L432.2,542.6 L434.1,542.6 L436.0,542.6 L437.8,542.6 L439.7,542.7 L441.6,542.7 L443.4,542.7 L445.3,542.7 L447.2,542.7 L449.0,542.7 L450.9,542.7 L452.8,542.7 L454.7,542.7 L456.5,542.7 L458.4,542.7 L460.3,542.7 L462.1,542.7 L464.0,542.7 L465.9,542.7 L467.7,542.7 L469.6,542.7 L471.5,542.7 L473.3,542.7 L475.2,542.7 L477.1,542.7 L478.9,542.7 L480.8,542.7 L482.7,542.7 L484.6,542.8 L486.4,542.8 L488.3,542.8 L490.2,542.8 L492.0,542.8 L493.9,542.8 L495.8,542.8 L497.6,542.8 L499.5,542.8 L501.4,542.8 L503.2,542.8 L505.1,542.8 L507.0,542.8 L508.8,542.8 L510.7,542.8 L512.6,542.8 L514.4,542.8 L516.3,542.8 L518.2,542.8 L520.1,542.8 L521.9,542.8 L523.8,542.8 L525.7,542.8 L527.5,542.8 L529.4,542.8 L531.3,542.8 L533.1,542.8 L535.0,542.8 L536.9,542.8 L538.7,542.8 L540.6,542.8 L542.5,542.8 L544.3,542.8 L546.2,542.8 L548.1,542.8 L550.0,542.8 L551.8,542.8 L553.7,542.8 L555.6,542.8 L557.4,542.8 L559.3,542.8 L561.2,542.8 L563.0,542.8 L564.9,542.8 L566.8,542.8 L568.6,542.8 L570.5,542.8 L572.4,542.8 L574.2,542.8 L576.1,542.8 L578.0,542.8 L579.9,542.8 L581.7,542.8 L583.6,542.8 L585.5,542.8 L587.3,542.8 L589.2,542.8 L591.1,542.8 L592.9,542.8 L594.8,542.8 L596.7,542.8 L598.5,542.8 L600.4,542.8 L602.3,542.8 L604.1,542.8 L606.0,542.8 L607.9,542.8 L609.8,542.8 L611.6,542.8 L613.5,542.8 L615.4,542.8 L617.2,542.8 L619.1,542.8 L621.0,542.8 L622.8,542.8 L624.7,542.8 L626.6,542.8 L628.4,542.8 L630.3,542.8 L632.2,542.8 L634.0,542.8 L635.9,542.8 L637.8,542.8 L639.7,542.8 L641.5,542.8 L643.4,542.8 L645.3,542.8 L647.1,542.8 L649.0,542.8 L650.9,542.8 L652.7,542.8 L654.6,542.8 L656.5,542.8 L658.3,542.8 L660.2,542.8 L662.1,542.8 L663.9,542.8 L665.8,542.8 L667.7,542.8 L669.6,542.8 L671.4,542.8 L673.3,542.8 L675.2,542.8 L677.0,542.8 L678.9,542.8 L680.8,542.8 L682.6,542.8 L684.5,542.8 L686.4,542.8 L688.2,542.8 L690.1,542.8 L692.0,542.8 L693.8,542.8 L695.7,542.8 L697.6,542.8 L699.5,542.8 L701.3,542.8 L703.2,542.8 L705.1,542.8 L706.9,542.8 L708.8,542.8 L710.7,542.8 L712.5,542.8 L714.4,542.8 L716.3,542.8 L718.1,542.8 L720.0,542.8 L721.9,542.8 L723.7,542.8 L725.6,542.8 L727.5,542.8 L729.4,542.8 L731.2,542.8 L733.1,542.8 L735.0,542.8 L736.8,542.8 L738.7,542.8 L740.6,542.8 L742.4,542.8 L744.3,542.8 L746.2,542.8 L748.0,542.8 L749.9,542.8 L751.8,542.8 L753.6,542.8 L755.5,542.8 L757.4,542.8 L759.3,542.8 L761.1,542.8 L763.0,542.8 L764.9,542.8 L766.7,542.8 L768.6,542.8 L770.5,542.8 L772.3,542.8 L774.2,542.8 L776.1,542.8 L777.9,542.8 L779.8,542.8 L781.7,542.8 L783.5,542.8 L785.4,542.8 L787.3,542.8 L789.2,542.8 L791.0,542.8 L792.9,542.8 L794.8,542.8 L796.6,542.8 L798.5,542.8 L800.4,542.8 L802.2,542.8 L804.1,542.8 L806.0,542.8 L807.8,542.8 L809.7,542.8 L811.6,542.8 L813.4,542.8 L815.3,542.8 L817.2,542.8 L819.1,542.8 L820.9,542.8 L822.8,542.8 L824.7,542.8 L826.5,542.8 L828.4,542.8 L830.3,542.8 L832.1,542.8 L834.0,542.8 L835.9,542.8 L837.7,542.8 L839.6,542.8 L841.5,542.8 L843.3,542.8 L845.2,542.8 L847.1,542.8 L849.0,542.8 L850.8,542.8 L852.7,542.8 L854.6,542.8 L856.4,542.8 L858.3,542.8 L860.2,542.8 L862.0,542.8 L863.9,542.8 L865.8,542.8 L867.6,542.8 L869.5,542.8 L871.4,542.8 L873.2,542.8 L875.1,542.8 L877.0,542.8 L878.9,542.8 L880.7,542.8 L882.6,542.8 L884.5,542.8 L886.3,542.8 L888.2,542.8 L890.1,542.8 L891.9,542.8 L893.8,542.8 L895.7,542.8 L897.5,542.8 L899.4,542.8 L901.3,542.8 L903.1,542.8 L905.0,542.8 L906.9,542.8 L908.8,542.8 L910.6,542.8 L912.5,542.8 L914.4,542.8 L916.2,542.8 L918.1,542.8 L920.0,542.8 L921.8,542.8 L923.7,542.8" stroke="#0b0b78" stroke-width="2.6" stroke-dasharray="11 4.6 2.2 4.6"/><line x1="122.2" y1="543.4000000000001" x2="923.8" y2="543.4000000000001" stroke="#444" stroke-width="1.15"/></g><rect x="122.5" y="21.2" width="801.6" height="556.6999999999999" fill="none" stroke="#000" stroke-width="2.1"/><path d="M122.2,543.2h10.5 M122.2,499.7h5.5 M122.2,456.2h10.5 M122.2,412.6h5.5 M122.2,369.1h10.5 M122.2,325.6h5.5 M122.2,282.1h10.5 M122.2,238.5h5.5 M122.2,195.0h10.5 M122.2,151.5h5.5 M122.2,108.0h10.5 M122.2,64.4h5.5 M122.2,20.9h10.5 M122.2,577.4v-10.5 M202.4,577.4v-5.5 M282.5,577.4v-10.5 M362.7,577.4v-5.5 M442.8,577.4v-10.5 M523.0,577.4v-5.5 M603.1,577.4v-10.5 M683.3,577.4v-5.5 M763.4,577.4v-10.5 M843.6,577.4v-5.5 M923.7,577.4v-10.5" stroke="#000" stroke-width="1.9" fill="none"/><text x="109.0" y="554.8" text-anchor="end" font-family='"Liberation Sans", sans-serif' font-size="38.5">0.0</text><text x="109.0" y="466.5" text-anchor="end" font-family='"Liberation Sans", sans-serif' font-size="38.5">0.5</text><text x="109.0" y="379.3" text-anchor="end" font-family='"Liberation Sans", sans-serif' font-size="38.5">1.0</text><text x="109.0" y="295.4" text-anchor="end" font-family='"Liberation Sans", sans-serif' font-size="38.5">1.5</text><text x="109.0" y="205.8" text-anchor="end" font-family='"Liberation Sans", sans-serif' font-size="38.5">2.0</text><text x="109.0" y="118.8" text-anchor="end" font-family='"Liberation Sans", sans-serif' font-size="38.5">2.5</text><text x="109.0" y="33.1" text-anchor="end" font-family='"Liberation Sans", sans-serif' font-size="38.5">3.0</text><text x="125.2" y="620.6" text-anchor="middle" font-family='"Liberation Sans", sans-serif' font-size="38.5">0</text><text x="283.8" y="620.6" text-anchor="middle" font-family='"Liberation Sans", sans-serif' font-size="38.5">2</text><text x="444.1" y="620.6" text-anchor="middle" font-family='"Liberation Sans", sans-serif' font-size="38.5">4</text><text x="604.4" y="620.6" text-anchor="middle" font-family='"Liberation Sans", sans-serif' font-size="38.5">6</text><text x="764.7" y="620.6" text-anchor="middle" font-family='"Liberation Sans", sans-serif' font-size="38.5">8</text><text x="925.5" y="620.6" text-anchor="middle" font-family='"Liberation Sans", sans-serif' font-size="38.5">10</text><text x="280.7" y="676.3" font-family='"Liberation Sans", sans-serif' font-size="38.2">Electron density (10</text><text x="616.9" y="663.2" font-family='"Liberation Sans", sans-serif' font-size="23">1</text><text x="633.6" y="663.2" font-family='"Liberation Sans", sans-serif' font-size="23">1</text><text x="659.2" y="676.3" font-family='"Liberation Sans", sans-serif' font-size="38.2">cm</text><rect x="710.2" y="655.4" width="14.6" height="1.7" fill="#000"/><text x="725.3" y="663.1" font-family='"Liberation Sans", sans-serif' font-size="23">2</text><text x="741.3" y="676.3" font-family='"Liberation Sans", sans-serif' font-size="38.2">)</text><text transform="translate(33.8,355.5) rotate(-90)" font-family='"Liberation Sans", sans-serif' font-size="38.5" textLength="97" lengthAdjust="spacing"><tspan font-style="italic">∂</tspan>S/<tspan font-style="italic">∂n</tspan></text><text x="209" y="161.6" font-family='"Liberation Sans", sans-serif' font-size="27.5">15 K</text><text x="159.3" y="256.9" font-family='"Liberation Sans", sans-serif' font-size="27.5">6 K</text><text x="153.5" y="356.6" font-family='"Liberation Sans", sans-serif' font-size="27.5">3 K</text><g clip-path="url(#ci)" fill="none" stroke-linejoin="round" stroke-linecap="butt"><path d="M505.7,259.6 L506.0,259.6 L506.6,259.6 L507.3,259.6 L507.7,259.6 L508.6,259.6 L509.6,259.6 L510.5,259.6 L511.0,259.6 L512.0,259.6 L513.0,259.6 L514.0,259.6 L514.5,259.6 L515.5,259.6 L516.5,259.6 L517.5,259.6 L518.0,259.6 L519.0,259.6 L520.0,259.6 L520.5,259.6 L521.5,259.6 L522.5,259.6 L523.5,259.6 L524.0,259.6 L525.0,259.6 L526.0,259.6 L527.0,259.6 L527.5,259.6 L528.5,259.6 L529.5,259.6 L530.5,259.6 L531.0,259.6 L532.0,259.6 L533.0,259.6 L534.0,259.6 L534.5,259.6 L535.5,259.6 L536.5,259.6 L537.0,259.6 L538.0,259.6 L539.0,259.6 L540.0,259.6 L540.5,259.6 L541.5,259.6 L542.5,259.6 L543.5,259.6 L544.0,259.6 L545.0,259.6 L546.0,259.6 L547.0,259.6 L547.5,259.6 L548.5,259.6 L549.5,259.6 L550.5,259.6 L551.0,259.6 L552.0,259.6 L553.0,259.6 L553.5,259.6 L554.5,259.6 L555.5,259.6 L556.5,259.6 L557.0,259.6 L558.0,259.6 L559.0,259.6 L560.0,259.6 L560.5,259.6 L561.5,259.6 L562.5,259.6 L563.5,259.6 L564.0,259.6 L565.0,259.6 L566.0,259.6 L567.0,259.6 L567.5,259.6 L568.5,259.6 L569.5,259.6 L570.0,259.6 L571.0,259.6 L572.0,259.6 L573.0,259.6 L573.5,259.6 L574.5,259.6 L575.5,259.6 L576.5,259.6 L577.0,259.6 L578.0,259.6 L579.0,259.6 L580.0,259.6 L580.5,259.6 L581.5,259.6 L582.5,259.6 L583.0,259.6 L584.0,259.6 L585.0,259.6 L586.0,259.6 L586.5,259.6 L587.5,259.6 L588.5,259.6 L589.5,259.6 L590.0,259.6 L591.0,259.6 L592.0,259.6 L593.0,259.6 L593.5,259.6 L594.5,259.6 L595.5,259.6 L596.5,259.6 L597.0,259.6 L598.0,259.6 L599.0,259.6 L599.5,259.6 L600.5,259.5 L601.5,259.5 L602.5,259.5 L603.0,259.5 L604.0,259.5 L605.0,259.5 L606.0,259.5 L606.5,259.5 L607.5,259.5 L608.5,259.5 L609.5,259.4 L610.0,259.4 L611.0,259.4 L612.0,259.4 L613.0,259.4 L613.5,259.4 L614.5,259.4 L615.5,259.4 L616.0,259.4 L617.0,259.3 L618.0,259.3 L619.0,259.3 L619.5,259.3 L620.5,259.3 L621.5,259.2 L622.5,259.2 L623.0,259.2 L624.0,259.2 L625.0,259.1 L626.0,259.1 L626.5,259.0 L627.5,259.0 L628.5,258.9 L629.5,258.8 L630.0,258.8 L631.0,258.7 L632.0,258.6 L632.5,258.5 L633.5,258.4 L634.5,258.3 L635.4,258.2 L635.9,258.1 L636.9,258.0 L637.9,257.8 L638.9,257.6 L639.4,257.5 L640.4,257.3 L641.3,257.0 L642.3,256.8 L642.8,256.6 L643.7,256.3 L644.7,256.0 L645.6,255.7 L646.1,255.6 L647.0,255.2 L648.0,254.9 L648.5,254.7 L649.4,254.4 L650.3,254.1 L651.3,253.7 L651.7,253.6 L652.7,253.2 L653.6,252.9 L654.6,252.6 L655.0,252.4 L656.0,252.1 L656.9,251.7 L657.9,251.4 L658.4,251.3 L659.3,250.9 L660.2,250.6 L660.7,250.4 L661.6,250.1 L662.6,249.7 L663.5,249.3 L664.0,249.1 L664.9,248.7 L665.8,248.3 L666.7,247.9 L667.1,247.7 L668.0,247.2 L668.9,246.7 L669.8,246.2 L670.2,246.0 L671.0,245.5 L671.9,244.9 L672.7,244.4 L673.1,244.1 L673.9,243.5 L674.7,242.9 L675.1,242.6 L675.9,242.0 L676.7,241.3 L677.4,240.7 L677.8,240.3 L678.5,239.7 L679.2,239.0 L680.0,238.3 L680.3,237.9 L681.0,237.2 L681.7,236.5 L682.4,235.7 L682.7,235.4 L683.4,234.6 L684.0,233.9 L684.7,233.1 L685.0,232.7 L685.6,231.9 L686.2,231.2 L686.5,230.8 L687.2,230.0 L687.7,229.2 L688.3,228.4 L688.6,227.9 L689.2,227.1 L689.8,226.3 L690.3,225.5 L690.6,225.0 L691.1,224.2 L691.6,223.4 L692.2,222.5 L692.4,222.1 L692.9,221.2 L693.4,220.4 L693.9,219.5 L694.2,219.1 L694.7,218.2 L695.2,217.3 L695.4,216.9 L695.9,216.0 L696.4,215.1 L696.8,214.2 L697.1,213.8 L697.5,212.9 L698.0,212.0 L698.5,211.1 L698.7,210.7 L699.2,209.8 L699.6,208.9 L700.1,208.0 L700.3,207.6 L700.8,206.7 L701.2,205.8 L701.7,204.9 L701.9,204.5 L702.4,203.6 L702.9,202.7 L703.1,202.3 L703.6,201.4 L704.0,200.5 L704.5,199.6 L704.7,199.2 L705.2,198.3 L705.7,197.4 L706.2,196.5 L706.4,196.1 L706.9,195.2 L707.3,194.3 L707.8,193.5 L708.0,193.0 L708.5,192.1 L708.9,191.2 L709.2,190.8 L709.6,189.9 L710.0,189.0 L710.4,188.1 L710.7,187.6 L711.1,186.7 L711.5,185.8 L711.9,184.9 L712.1,184.4 L712.5,183.5 L713.0,182.6 L713.4,181.7 L713.6,181.3 L714.1,180.4 L714.5,179.5 L714.9,178.6 L715.2,178.1 L715.6,177.2 L716.1,176.3 L716.3,175.9 L716.7,175.0 L717.2,174.1 L717.6,173.2 L717.8,172.8 L718.3,171.9 L718.7,170.9 L719.1,170.0 L719.3,169.6 L719.7,168.7 L720.1,167.8 L720.6,166.9 L720.8,166.4 L721.2,165.5 L721.6,164.6 L722.0,163.7 L722.2,163.2 L722.7,162.3 L723.1,161.4 L723.3,161.0 L723.8,160.1 L724.2,159.2 L724.6,158.3 L724.9,157.8 L725.3,156.9 L725.8,156.0 L726.2,155.1 L726.4,154.7 L726.9,153.8 L727.3,152.9 L727.8,152.0 L728.0,151.6 L728.4,150.7 L728.9,149.8 L729.3,148.9 L729.5,148.4 L730.0,147.5 L730.4,146.6 L730.6,146.2 L731.1,145.3 L731.5,144.4 L732.0,143.5 L732.2,143.1 L732.6,142.2 L733.1,141.3 L733.5,140.4 L733.8,139.9 L734.2,139.0 L734.6,138.1 L735.1,137.2 L735.3,136.8 L735.8,135.9 L736.2,135.0 L736.4,134.6 L736.9,133.7 L737.3,132.8 L737.8,131.9 L738.0,131.4 L738.5,130.5 L738.9,129.7 L739.4,128.8 L739.6,128.3 L740.1,127.4 L740.6,126.6 L741.1,125.7 L741.3,125.3 L741.8,124.4 L742.3,123.5 L742.8,122.6 L743.0,122.2 L743.5,121.3 L744.0,120.4 L744.2,120.0 L744.7,119.1 L745.2,118.3 L745.7,117.4 L746.0,117.0 L746.4,116.1 L746.9,115.2 L747.4,114.4 L747.7,113.9 L748.2,113.1 L748.7,112.2 L749.2,111.3 L749.5,110.9 L750.0,110.0 L750.5,109.2 L751.0,108.3 L751.3,107.9 L751.8,107.1 L752.3,106.2 L752.6,105.8 L753.1,104.9 L753.6,104.1 L754.2,103.2 L754.4,102.8 L755.0,102.0 L755.5,101.1 L756.0,100.3 L756.3,99.9 L756.9,99.0 L757.4,98.2 L758.0,97.4 L758.2,96.9 L758.8,96.1 L759.4,95.3 L759.9,94.5 L760.2,94.0 L760.8,93.2 L761.4,92.4 L761.6,92.0 L762.2,91.2 L762.8,90.4 L763.4,89.6 L763.7,89.2 L764.3,88.4 L764.9,87.6 L765.5,86.8 L765.8,86.4 L766.5,85.6 L767.1,84.9 L767.7,84.1 L768.1,83.7 L768.7,82.9 L769.4,82.2 L770.0,81.4 L770.4,81.1 L771.0,80.3 L771.7,79.6 L772.1,79.2 L772.8,78.5 L773.5,77.8 L774.2,77.1 L774.6,76.8 L775.3,76.1 L776.0,75.4 L776.8,74.8 L777.2,74.5 L777.9,73.8 L778.7,73.2 L779.5,72.6 L779.9,72.3 L780.8,71.8 L781.6,71.2 L782.0,70.9 L782.8,70.4 L783.7,69.9 L784.6,69.4 L785.0,69.1 L785.9,68.7 L786.8,68.2 L787.7,67.8 L788.1,67.6 L789.1,67.2 L790.0,66.9 L790.9,66.6 L791.4,66.5 L792.4,66.2 L793.3,66.0 L794.3,65.7 L794.8,65.6 L795.8,65.4 L796.8,65.3 L797.3,65.2 L798.2,65.0 L799.2,64.9 L800.2,64.8 L800.7,64.7 L801.7,64.6 L802.7,64.5 L803.7,64.4 L804.2,64.4 L805.2,64.3 L806.2,64.3 L807.2,64.2 L807.7,64.2 L808.7,64.2 L809.7,64.1 L810.7,64.1 L811.2,64.1 L812.2,64.0 L813.2,64.0 L813.7,64.0 L814.7,63.9 L815.7,63.9 L816.7,63.9 L817.2,63.9 L818.2,63.8 L819.2,63.8 L820.2,63.8 L820.7,63.8 L821.7,63.7 L822.7,63.7 L823.7,63.7 L824.2,63.7 L825.2,63.7 L826.2,63.6 L827.2,63.6 L827.7,63.6 L828.7,63.6 L829.7,63.6 L830.2,63.6 L831.2,63.6 L832.2,63.6 L833.2,63.6 L833.7,63.6 L834.7,63.6 L835.7,63.6 L836.7,63.6 L837.2,63.6 L838.2,63.6 L839.2,63.6 L840.2,63.5 L840.7,63.5 L841.7,63.5 L842.7,63.5 L843.7,63.5 L844.2,63.5 L845.2,63.5 L846.2,63.5 L846.7,63.5 L847.7,63.5 L848.7,63.5 L849.7,63.5 L850.2,63.5 L851.2,63.5 L852.2,63.5 L853.2,63.5 L853.7,63.5 L854.7,63.5 L855.7,63.5 L856.7,63.5 L857.2,63.5 L858.2,63.5 L859.2,63.5 L859.7,63.5 L860.7,63.4 L861.7,63.4 L862.7,63.4 L863.2,63.4 L864.2,63.4 L865.2,63.4 L866.2,63.4 L866.7,63.4 L867.7,63.4 L868.7,63.4 L869.7,63.4 L870.2,63.4 L871.2,63.4 L872.2,63.4 L873.2,63.4 L873.7,63.4 L874.7,63.4 L875.7,63.4 L876.2,63.4 L877.2,63.4 L878.2,63.4 L879.2,63.4 L879.7,63.4 L880.7,63.4 L881.7,63.4 L882.7,63.4 L883.2,63.4 L884.2,63.4 L885.2,63.4 L886.2,63.4 L886.7,63.4 L887.7,63.4 L888.7,63.4 L889.7,63.4 L890.2,63.4 L891.2,63.4 L892.2,63.4 L892.7,63.4 L893.7,63.4 L894.7,63.4 L895.7,63.4 L896.2,63.4 L897.2,63.4 L898.2,63.4 L899.2,63.4 L899.7,63.4 L900.7,63.4 L901.7,63.4 L902.7,63.4 L903.2,63.4 L904.2,63.4 L905.2,63.4 L906.2,63.4 L906.7,63.4 L907.7,63.4 L908.7,63.4 L909.2,63.4 L910.2,63.4 L911.2,63.4 L912.2,63.4 L912.7,63.4 L913.7,63.4 L914.7,63.4 L915.7,63.4 L916.2,63.4 L917.2,63.4 L918.1,63.4 L919.0,63.4 L919.4,63.4 L920.2,63.4 L920.9,63.4 L921.5,63.4" stroke="#000" stroke-width="2.5" stroke-dasharray="11 11.6"/><path d="M505.7,261.9 L506.0,261.9 L506.3,261.9 L507.0,261.9 L507.3,261.9 L508.2,261.9 L508.6,261.9 L509.6,261.9 L510.0,261.9 L511.0,261.9 L511.5,261.9 L512.5,261.9 L513.0,261.9 L514.0,261.9 L514.5,261.9 L515.5,261.9 L516.0,261.9 L517.0,261.9 L517.5,261.9 L518.0,261.9 L519.0,261.9 L519.5,261.9 L520.5,261.9 L521.0,261.9 L522.0,261.9 L522.5,261.9 L523.5,261.9 L524.0,261.9 L525.0,261.9 L525.5,261.9 L526.5,261.9 L527.0,261.9 L528.0,261.9 L528.5,261.9 L529.5,261.9 L530.0,261.9 L530.5,261.9 L531.5,261.9 L532.0,261.9 L533.0,261.9 L533.5,261.9 L534.5,261.9 L535.0,261.9 L536.0,261.9 L536.5,261.9 L537.5,261.9 L538.0,261.9 L539.0,261.9 L539.5,261.9 L540.5,261.9 L541.0,261.9 L542.0,261.9 L542.5,261.9 L543.0,261.9 L544.0,261.9 L544.5,261.9 L545.5,261.9 L546.0,261.9 L547.0,261.9 L547.5,261.9 L548.5,261.9 L549.0,261.9 L550.0,261.9 L550.5,261.9 L551.5,261.9 L552.0,261.9 L553.0,261.9 L553.5,261.9 L554.5,261.9 L555.0,261.9 L555.5,261.9 L556.5,261.9 L557.0,261.9 L558.0,261.9 L558.5,261.9 L559.5,261.9 L560.0,261.9 L561.0,261.9 L561.5,261.9 L562.5,261.9 L563.0,261.9 L564.0,261.9 L564.5,261.9 L565.5,261.9 L566.0,261.9 L567.0,261.9 L567.5,261.9 L568.0,261.9 L569.0,261.9 L569.5,261.9 L570.5,261.9 L571.0,261.9 L572.0,261.9 L572.5,261.8 L573.5,261.8 L574.0,261.8 L575.0,261.8 L575.5,261.8 L576.5,261.8 L577.0,261.8 L578.0,261.8 L578.5,261.8 L579.5,261.8 L580.0,261.8 L580.5,261.8 L581.5,261.8 L582.0,261.8 L583.0,261.8 L583.5,261.8 L584.5,261.7 L585.0,261.7 L586.0,261.7 L586.5,261.7 L587.5,261.7 L588.0,261.7 L589.0,261.7 L589.5,261.7 L590.5,261.7 L591.0,261.7 L592.0,261.7 L592.5,261.7 L593.0,261.7 L594.0,261.6 L594.5,261.6 L595.5,261.6 L596.0,261.6 L597.0,261.6 L597.5,261.6 L598.5,261.5 L599.0,261.5 L600.0,261.5 L600.5,261.5 L601.5,261.5 L602.0,261.5 L603.0,261.4 L603.5,261.4 L604.5,261.4 L605.0,261.4 L605.5,261.3 L606.5,261.3 L607.0,261.3 L608.0,261.3 L608.5,261.2 L609.5,261.2 L610.0,261.2 L611.0,261.1 L611.5,261.1 L612.5,261.1 L613.0,261.1 L614.0,261.0 L614.5,261.0 L615.5,261.0 L616.0,261.0 L617.0,260.9 L617.5,260.9 L618.0,260.9 L619.0,260.8 L619.5,260.8 L620.5,260.8 L621.0,260.7 L622.0,260.7 L622.5,260.6 L623.5,260.6 L624.0,260.5 L625.0,260.5 L625.5,260.4 L626.5,260.3 L627.0,260.3 L628.0,260.2 L628.5,260.1 L629.4,260.0 L629.9,260.0 L630.4,259.9 L631.4,259.8 L631.9,259.7 L632.9,259.6 L633.4,259.5 L634.4,259.3 L634.9,259.2 L635.9,259.1 L636.4,259.0 L637.3,258.8 L637.8,258.7 L638.8,258.4 L639.3,258.3 L640.2,258.0 L640.7,257.9 L641.7,257.6 L642.2,257.5 L642.6,257.3 L643.6,257.0 L644.1,256.9 L645.0,256.5 L645.5,256.4 L646.4,256.0 L646.9,255.8 L647.8,255.5 L648.3,255.3 L649.2,254.9 L649.7,254.8 L650.6,254.4 L651.1,254.3 L652.0,254.0 L652.5,253.8 L653.5,253.5 L653.9,253.4 L654.4,253.2 L655.4,252.9 L655.9,252.8 L656.8,252.5 L657.3,252.4 L658.3,252.1 L658.8,252.0 L659.7,251.7 L660.2,251.5 L661.1,251.2 L661.6,251.1 L662.5,250.7 L663.0,250.6 L664.0,250.2 L664.4,250.0 L665.3,249.7 L665.8,249.5 L666.3,249.3 L667.2,248.9 L667.6,248.7 L668.5,248.2 L669.0,248.0 L669.9,247.6 L670.3,247.4 L671.2,246.9 L671.7,246.7 L672.5,246.2 L673.0,246.0 L673.9,245.5 L674.3,245.2 L675.2,244.8 L675.6,244.5 L676.5,244.0 L676.9,243.8 L677.3,243.5 L678.2,243.0 L678.6,242.7 L679.5,242.2 L679.9,241.9 L680.7,241.4 L681.2,241.1 L682.0,240.6 L682.4,240.3 L683.3,239.8 L683.7,239.5 L684.5,239.0 L684.9,238.7 L685.8,238.1 L686.2,237.8 L687.0,237.2 L687.4,237.0 L687.8,236.7 L688.6,236.1 L689.0,235.8 L689.8,235.2 L690.2,234.9 L691.0,234.2 L691.4,233.9 L692.1,233.3 L692.5,233.0 L693.3,232.4 L693.7,232.1 L694.5,231.4 L694.9,231.1 L695.7,230.5 L696.1,230.2 L696.8,229.6 L697.2,229.3 L697.6,228.9 L698.4,228.3 L698.8,228.0 L699.6,227.4 L700.0,227.1 L700.8,226.5 L701.1,226.2 L701.9,225.5 L702.3,225.2 L703.1,224.6 L703.5,224.3 L704.3,223.7 L704.7,223.4 L705.5,222.8 L705.9,222.5 L706.7,221.8 L707.1,221.5 L707.5,221.2 L708.3,220.6 L708.7,220.4 L709.5,219.8 L709.9,219.5 L710.7,218.9 L711.1,218.6 L711.9,218.1 L712.4,217.8 L713.2,217.2 L713.6,217.0 L714.5,216.4 L714.9,216.2 L715.7,215.7 L716.2,215.4 L717.0,214.9 L717.5,214.7 L718.4,214.2 L718.8,214.0 L719.2,213.7 L720.1,213.3 L720.6,213.1 L721.5,212.7 L722.0,212.5 L722.9,212.2 L723.4,212.0 L724.3,211.7 L724.8,211.6 L725.8,211.4 L726.3,211.3 L727.2,211.1 L727.7,211.0 L728.7,210.9 L729.2,210.9 L730.2,210.8 L730.7,210.8 L731.2,210.8 L732.2,210.8 L732.7,210.8 L733.7,210.8 L734.2,210.9 L735.2,211.0 L735.7,211.1 L736.6,211.2 L737.1,211.3 L738.1,211.5 L738.6,211.7 L739.6,211.9 L740.0,212.0 L741.0,212.3 L741.5,212.4 L742.4,212.7 L742.9,212.9 L743.4,213.0 L744.3,213.4 L744.8,213.5 L745.7,213.9 L746.2,214.1 L747.1,214.4 L747.6,214.6 L748.5,215.0 L749.0,215.2 L749.9,215.6 L750.4,215.8 L751.3,216.2 L751.7,216.4 L752.6,216.8 L753.1,217.0 L754.0,217.4 L754.4,217.6 L754.9,217.9 L755.8,218.3 L756.2,218.5 L757.1,219.0 L757.6,219.2 L758.4,219.7 L758.9,220.0 L759.7,220.4 L760.2,220.7 L761.0,221.2 L761.5,221.4 L762.3,222.0 L762.8,222.2 L763.6,222.7 L764.0,223.0 L764.9,223.5 L765.3,223.8 L765.8,224.0 L766.6,224.6 L767.0,224.8 L767.9,225.3 L768.3,225.6 L769.2,226.1 L769.6,226.4 L770.4,226.9 L770.8,227.2 L771.7,227.7 L772.1,228.0 L773.0,228.5 L773.4,228.8 L774.2,229.3 L774.7,229.6 L775.5,230.1 L775.9,230.4 L776.3,230.7 L777.2,231.2 L777.6,231.5 L778.5,232.0 L778.9,232.3 L779.7,232.8 L780.2,233.1 L781.0,233.6 L781.4,233.8 L782.3,234.3 L782.7,234.6 L783.6,235.1 L784.0,235.4 L784.9,235.9 L785.3,236.1 L786.2,236.6 L786.6,236.8 L787.1,237.1 L788.0,237.5 L788.4,237.7 L789.3,238.2 L789.8,238.4 L790.7,238.8 L791.1,239.1 L792.0,239.5 L792.5,239.7 L793.4,240.1 L793.8,240.3 L794.8,240.7 L795.2,240.9 L796.2,241.2 L796.6,241.4 L797.6,241.8 L798.0,242.0 L798.5,242.2 L799.4,242.5 L799.9,242.7 L800.8,243.0 L801.3,243.2 L802.2,243.6 L802.7,243.7 L803.6,244.1 L804.1,244.2 L805.1,244.6 L805.5,244.7 L806.5,245.1 L806.9,245.2 L807.9,245.5 L808.4,245.7 L809.3,246.0 L809.8,246.1 L810.3,246.3 L811.2,246.5 L811.7,246.7 L812.7,246.9 L813.2,247.1 L814.1,247.3 L814.6,247.4 L815.6,247.7 L816.1,247.8 L817.1,248.0 L817.6,248.1 L818.5,248.3 L819.0,248.4 L820.0,248.6 L820.5,248.7 L821.5,248.9 L822.0,248.9 L822.5,249.0 L823.4,249.2 L823.9,249.3 L824.9,249.4 L825.4,249.5 L826.4,249.7 L826.9,249.7 L827.9,249.9 L828.4,249.9 L829.4,250.0 L829.9,250.1 L830.9,250.2 L831.4,250.3 L832.4,250.4 L832.9,250.4 L833.9,250.5 L834.4,250.6 L834.9,250.6 L835.8,250.7 L836.3,250.7 L837.3,250.8 L837.8,250.8 L838.8,250.9 L839.3,250.9 L840.3,251.0 L840.8,251.0 L841.8,251.1 L842.3,251.1 L843.3,251.2 L843.8,251.2 L844.8,251.3 L845.3,251.3 L846.3,251.3 L846.8,251.4 L847.3,251.4 L848.3,251.4 L848.8,251.5 L849.8,251.5 L850.3,251.5 L851.3,251.6 L851.8,251.6 L852.8,251.6 L853.3,251.7 L854.3,251.7 L854.8,251.7 L855.8,251.8 L856.3,251.8 L857.3,251.8 L857.8,251.8 L858.8,251.9 L859.3,251.9 L859.8,251.9 L860.8,251.9 L861.3,252.0 L862.3,252.0 L862.8,252.0 L863.8,252.0 L864.3,252.1 L865.3,252.1 L865.8,252.1 L866.8,252.1 L867.3,252.2 L868.3,252.2 L868.8,252.2 L869.8,252.2 L870.3,252.3 L871.3,252.3 L871.8,252.3 L872.3,252.3 L873.3,252.3 L873.8,252.4 L874.8,252.4 L875.3,252.4 L876.3,252.4 L876.8,252.4 L877.8,252.5 L878.3,252.5 L879.3,252.5 L879.8,252.5 L880.8,252.6 L881.3,252.6 L882.3,252.6 L882.8,252.6 L883.8,252.6 L884.3,252.6 L884.8,252.7 L885.8,252.7 L886.3,252.7 L887.3,252.7 L887.8,252.7 L888.8,252.7 L889.3,252.8 L890.3,252.8 L890.8,252.8 L891.8,252.8 L892.3,252.8 L893.3,252.8 L893.8,252.8 L894.8,252.9 L895.3,252.9 L896.3,252.9 L896.8,252.9 L897.3,252.9 L898.3,252.9 L898.8,252.9 L899.8,253.0 L900.3,253.0 L901.3,253.0 L901.8,253.0 L902.8,253.0 L903.3,253.0 L904.3,253.1 L904.8,253.1 L905.8,253.1 L906.3,253.1 L907.3,253.1 L907.8,253.1 L908.8,253.1 L909.3,253.1 L909.8,253.1 L910.8,253.2 L911.3,253.2 L912.3,253.2 L912.8,253.2 L913.8,253.2 L914.3,253.2 L915.3,253.2 L915.8,253.2 L916.8,253.2 L917.3,253.2 L918.2,253.2 L918.7,253.2 L919.6,253.2 L920.0,253.2 L920.7,253.2 L921.0,253.2 L921.6,253.2" stroke="#e3121b" stroke-width="2.5" stroke-dasharray="11 11.6"/><path d="M505.6,251.0 L505.8,250.9 L506.4,250.6 L507.0,250.2 L507.8,249.9 L508.6,249.4 L509.0,249.2 L509.9,248.8 L510.7,248.3 L511.6,247.8 L512.5,247.3 L513.3,246.8 L513.8,246.6 L514.6,246.1 L515.5,245.6 L516.3,245.0 L517.2,244.5 L518.0,243.9 L518.4,243.6 L519.2,243.0 L520.0,242.4 L520.7,241.8 L521.5,241.1 L522.2,240.4 L522.5,240.1 L523.2,239.3 L523.9,238.6 L524.6,237.9 L525.2,237.1 L525.9,236.3 L526.2,236.0 L526.8,235.2 L527.4,234.4 L528.0,233.6 L528.6,232.8 L528.9,232.4 L529.5,231.6 L530.0,230.7 L530.6,229.9 L531.1,229.0 L531.6,228.2 L531.8,227.7 L532.3,226.9 L532.8,226.0 L533.3,225.1 L533.8,224.2 L534.2,223.3 L534.4,222.9 L534.8,222.0 L535.2,221.1 L535.6,220.1 L535.9,219.2 L536.2,218.2 L536.4,217.8 L536.7,216.8 L537.0,215.9 L537.2,214.9 L537.5,213.9 L537.7,213.0 L537.8,212.5 L538.1,211.5 L538.3,210.5 L538.5,209.6 L538.7,208.6 L538.9,208.1 L539.1,207.1 L539.3,206.1 L539.5,205.2 L539.7,204.2 L539.9,203.2 L540.0,202.7 L540.2,201.7 L540.4,200.8 L540.6,199.8 L540.8,198.8 L541.0,197.8 L541.1,197.3 L541.3,196.3 L541.5,195.4 L541.7,194.4 L541.9,193.4 L542.1,192.4 L542.2,191.9 L542.4,191.0 L542.6,190.0 L542.8,189.0 L543.0,188.0 L543.2,187.0 L543.3,186.6 L543.5,185.6 L543.7,184.6 L543.9,183.6 L544.1,182.6 L544.3,181.6 L544.4,181.1 L544.6,180.2 L544.7,179.2 L544.9,178.2 L545.1,177.2 L545.2,176.7 L545.4,175.7 L545.6,174.8 L545.7,173.8 L545.9,172.8 L546.1,171.8 L546.2,171.3 L546.4,170.3 L546.6,169.4 L546.8,168.4 L546.9,167.4 L547.1,166.4 L547.2,165.9 L547.4,164.9 L547.6,163.9 L547.8,163.0 L548.0,162.0 L548.2,161.0 L548.3,160.5 L548.4,159.5 L548.6,158.5 L548.8,157.6 L549.0,156.6 L549.2,155.6 L549.3,155.1 L549.5,154.1 L549.7,153.1 L549.9,152.2 L550.0,151.2 L550.1,150.7 L550.3,149.7 L550.5,148.7 L550.7,147.7 L550.9,146.8 L551.1,145.8 L551.2,145.3 L551.4,144.3 L551.6,143.3 L551.8,142.4 L552.0,141.4 L552.2,140.4 L552.3,139.9 L552.6,138.9 L552.8,138.0 L553.0,137.0 L553.2,136.0 L553.4,135.0 L553.6,134.6 L553.8,133.6 L554.0,132.6 L554.3,131.6 L554.5,130.7 L554.8,129.7 L554.9,129.2 L555.1,128.2 L555.4,127.3 L555.6,126.3 L555.9,125.3 L556.2,124.4 L556.3,123.9 L556.5,122.9 L556.8,122.0 L557.1,121.0 L557.3,120.0 L557.5,119.6 L557.7,118.6 L558.0,117.6 L558.2,116.7 L558.5,115.7 L558.8,114.7 L558.9,114.2 L559.2,113.3 L559.4,112.3 L559.7,111.4 L560.0,110.4 L560.3,109.4 L560.4,109.0 L560.7,108.0 L561.0,107.0 L561.2,106.1 L561.5,105.1 L561.8,104.2 L561.9,103.7 L562.2,102.7 L562.5,101.8 L562.8,100.8 L563.1,99.9 L563.4,98.9 L563.6,98.4 L563.9,97.5 L564.2,96.5 L564.5,95.6 L564.9,94.6 L565.0,94.2 L565.3,93.2 L565.7,92.3 L566.0,91.3 L566.4,90.4 L566.7,89.5 L566.9,89.0 L567.3,88.1 L567.7,87.2 L568.1,86.2 L568.5,85.3 L568.9,84.4 L569.1,84.0 L569.6,83.1 L570.1,82.2 L570.5,81.3 L571.0,80.5 L571.5,79.6 L571.8,79.2 L572.4,78.3 L572.9,77.5 L573.5,76.7 L574.1,75.9 L574.7,75.1 L575.0,74.7 L575.7,74.0 L576.4,73.3 L577.1,72.6 L577.8,71.9 L578.2,71.6 L578.9,70.9 L579.7,70.3 L580.5,69.7 L581.4,69.2 L582.2,68.7 L582.6,68.5 L583.5,68.0 L584.4,67.6 L585.4,67.3 L586.3,67.0 L587.3,66.7 L587.7,66.6 L588.7,66.4 L589.7,66.2 L590.7,66.0 L591.7,65.8 L592.6,65.7 L593.1,65.6 L594.1,65.5 L595.1,65.4 L596.1,65.3 L597.1,65.2 L598.1,65.1 L598.6,65.0 L599.6,64.9 L600.6,64.8 L601.6,64.8 L602.6,64.7 L603.6,64.6 L604.1,64.6 L605.1,64.5 L606.1,64.4 L607.1,64.4 L608.1,64.3 L608.6,64.3 L609.6,64.3 L610.6,64.2 L611.6,64.2 L612.6,64.2 L613.6,64.1 L614.1,64.1 L615.1,64.1 L616.1,64.0 L617.1,64.0 L618.1,64.0 L619.1,64.0 L619.6,64.0 L620.6,63.9 L621.6,63.9 L622.6,63.9 L623.6,63.9 L624.6,63.9 L625.1,63.9 L626.1,63.9 L627.1,63.9 L628.1,63.9 L629.1,63.9 L630.1,63.9 L630.6,63.9 L631.6,63.9 L632.6,63.9 L633.6,63.9 L634.6,64.0 L635.1,64.0 L636.1,64.0 L637.1,64.0 L638.1,64.0 L639.1,64.0 L640.1,64.0 L640.6,64.0 L641.6,64.0 L642.6,64.0 L643.6,64.0 L644.6,64.0 L645.6,64.0 L646.1,64.0 L647.1,64.0 L648.1,64.0 L649.1,64.0 L650.1,64.1 L651.1,64.1 L651.6,64.1 L652.6,64.1 L653.6,64.1 L654.6,64.1 L655.6,64.1 L656.6,64.1 L657.1,64.1 L658.1,64.1 L659.1,64.1 L660.1,64.1 L661.1,64.1 L662.1,64.1 L662.6,64.1 L663.6,64.1 L664.6,64.1 L665.6,64.1 L666.6,64.1 L667.1,64.1 L668.1,64.1 L669.1,64.1 L670.1,64.1 L671.1,64.1 L672.1,64.1 L672.6,64.1 L673.6,64.1 L674.6,64.1 L675.6,64.1 L676.6,64.1 L677.6,64.1 L678.1,64.1 L679.1,64.2 L680.1,64.2 L681.1,64.2 L682.1,64.2 L683.1,64.2 L683.6,64.2 L684.6,64.2 L685.6,64.2 L686.6,64.2 L687.6,64.2 L688.6,64.2 L689.1,64.2 L690.1,64.2 L691.1,64.2 L692.1,64.2 L693.1,64.2 L693.6,64.2 L694.6,64.2 L695.6,64.2 L696.6,64.2 L697.6,64.2 L698.6,64.2 L699.1,64.2 L700.1,64.2 L701.1,64.2 L702.1,64.2 L703.1,64.2 L704.1,64.2 L704.6,64.2 L705.6,64.2 L706.6,64.2 L707.6,64.2 L708.6,64.2 L709.6,64.2 L710.1,64.2 L711.1,64.2 L712.1,64.2 L713.1,64.2 L714.1,64.2 L715.1,64.2 L715.6,64.2 L716.6,64.2 L717.6,64.2 L718.6,64.2 L719.6,64.2 L720.6,64.2 L721.1,64.2 L722.1,64.2 L723.1,64.2 L724.1,64.2 L725.1,64.2 L725.6,64.2 L726.6,64.2 L727.6,64.2 L728.6,64.3 L729.6,64.3 L730.6,64.3 L731.1,64.3 L732.1,64.3 L733.1,64.3 L734.1,64.3 L735.1,64.3 L736.1,64.3 L736.6,64.3 L737.6,64.3 L738.6,64.3 L739.6,64.3 L740.6,64.3 L741.6,64.3 L742.1,64.3 L743.1,64.3 L744.1,64.3 L745.1,64.3 L746.1,64.3 L747.1,64.3 L747.6,64.3 L748.6,64.3 L749.6,64.3 L750.6,64.3 L751.6,64.3 L752.1,64.3 L753.1,64.3 L754.1,64.3 L755.1,64.3 L756.1,64.3 L757.1,64.3 L757.6,64.3 L758.6,64.3 L759.6,64.3 L760.6,64.3 L761.6,64.3 L762.6,64.3 L763.1,64.3 L764.1,64.3 L765.1,64.3 L766.1,64.3 L767.1,64.3 L768.1,64.3 L768.6,64.3 L769.6,64.3 L770.6,64.3 L771.6,64.3 L772.6,64.3 L773.6,64.3 L774.1,64.3 L775.1,64.3 L776.1,64.3 L777.1,64.3 L778.1,64.3 L778.6,64.3 L779.6,64.3 L780.6,64.3 L781.6,64.3 L782.6,64.3 L783.6,64.3 L784.1,64.3 L785.1,64.3 L786.1,64.3 L787.1,64.3 L788.1,64.3 L789.1,64.3 L789.6,64.3 L790.6,64.3 L791.6,64.3 L792.6,64.3 L793.6,64.3 L794.6,64.3 L795.1,64.3 L796.1,64.3 L797.1,64.3 L798.1,64.3 L799.1,64.3 L800.1,64.4 L800.6,64.4 L801.6,64.4 L802.6,64.4 L803.6,64.4 L804.6,64.4 L805.6,64.4 L806.1,64.4 L807.1,64.4 L808.1,64.4 L809.1,64.4 L810.1,64.4 L810.6,64.4 L811.6,64.4 L812.6,64.4 L813.6,64.4 L814.6,64.4 L815.6,64.4 L816.1,64.4 L817.1,64.4 L818.1,64.4 L819.1,64.4 L820.1,64.4 L821.1,64.4 L821.6,64.4 L822.6,64.4 L823.6,64.4 L824.6,64.4 L825.6,64.4 L826.6,64.4 L827.1,64.4 L828.1,64.4 L829.1,64.4 L830.1,64.4 L831.1,64.4 L832.1,64.4 L832.6,64.4 L833.6,64.4 L834.6,64.4 L835.6,64.4 L836.6,64.4 L837.1,64.4 L838.1,64.4 L839.1,64.4 L840.1,64.4 L841.1,64.4 L842.1,64.4 L842.6,64.4 L843.6,64.4 L844.6,64.4 L845.6,64.4 L846.6,64.4 L847.6,64.4 L848.1,64.4 L849.1,64.4 L850.1,64.4 L851.1,64.4 L852.1,64.4 L853.1,64.4 L853.6,64.4 L854.6,64.4 L855.6,64.4 L856.6,64.4 L857.6,64.4 L858.6,64.4 L859.1,64.4 L860.1,64.4 L861.1,64.4 L862.1,64.4 L863.1,64.4 L864.1,64.4 L864.6,64.4 L865.6,64.4 L866.6,64.4 L867.6,64.4 L868.6,64.4 L869.1,64.4 L870.1,64.4 L871.1,64.4 L872.1,64.4 L873.1,64.4 L874.1,64.4 L874.6,64.4 L875.6,64.4 L876.6,64.4 L877.6,64.4 L878.6,64.4 L879.6,64.4 L880.1,64.4 L881.1,64.4 L882.1,64.5 L883.1,64.5 L884.1,64.5 L885.1,64.5 L885.6,64.5 L886.6,64.5 L887.6,64.5 L888.6,64.5 L889.6,64.5 L890.6,64.5 L891.1,64.5 L892.1,64.5 L893.1,64.5 L894.1,64.5 L895.1,64.5 L895.6,64.5 L896.6,64.5 L897.6,64.5 L898.6,64.5 L899.6,64.5 L900.6,64.5 L901.1,64.5 L902.1,64.5 L903.1,64.5 L904.1,64.5 L905.1,64.5 L906.1,64.5 L906.6,64.5 L907.6,64.5 L908.6,64.5 L909.6,64.5 L910.6,64.5 L911.6,64.5 L912.1,64.5 L913.1,64.5 L914.1,64.5 L915.1,64.5 L916.0,64.5 L917.0,64.5 L917.5,64.5 L918.4,64.5 L919.3,64.5 L920.1,64.5 L920.8,64.5 L921.4,64.5" stroke="#000" stroke-width="2.4"/><path d="M505.4,250.7 L505.6,250.5 L506.0,250.1 L506.3,249.8 L506.8,249.2 L507.5,248.6 L507.8,248.3 L508.4,247.6 L509.1,246.9 L509.5,246.6 L510.2,245.8 L510.8,245.1 L511.2,244.7 L511.8,244.0 L512.5,243.3 L512.8,242.9 L513.5,242.1 L514.2,241.4 L514.5,241.0 L515.1,240.2 L515.7,239.4 L516.1,239.1 L516.7,238.3 L517.3,237.5 L517.6,237.1 L518.2,236.3 L518.8,235.5 L519.1,235.1 L519.7,234.3 L520.2,233.5 L520.5,233.0 L521.1,232.2 L521.6,231.4 L521.9,231.0 L522.4,230.1 L523.0,229.3 L523.2,228.8 L523.7,228.0 L524.0,227.5 L524.5,226.7 L525.0,225.8 L525.2,225.4 L525.7,224.5 L526.2,223.6 L526.4,223.2 L526.9,222.3 L527.4,221.4 L527.6,221.0 L528.1,220.1 L528.5,219.2 L528.7,218.8 L529.2,217.9 L529.6,217.0 L529.9,216.5 L530.3,215.6 L530.8,214.7 L531.0,214.3 L531.4,213.4 L531.9,212.5 L532.1,212.0 L532.5,211.1 L533.0,210.2 L533.2,209.8 L533.6,208.9 L534.1,208.0 L534.3,207.5 L534.7,206.6 L535.1,205.7 L535.3,205.3 L535.8,204.4 L536.2,203.5 L536.4,203.0 L536.8,202.1 L537.2,201.2 L537.4,200.7 L537.8,199.8 L538.0,199.4 L538.4,198.5 L538.9,197.5 L539.1,197.1 L539.5,196.2 L539.9,195.3 L540.1,194.8 L540.5,193.9 L540.9,193.0 L541.1,192.5 L541.6,191.6 L542.0,190.7 L542.2,190.3 L542.7,189.4 L543.2,188.6 L543.5,188.1 L544.0,187.3 L544.5,186.5 L544.8,186.1 L545.5,185.3 L546.1,184.6 L546.5,184.3 L547.2,183.7 L548.0,183.2 L548.5,183.0 L549.3,182.7 L550.2,182.5 L550.7,182.4 L551.6,182.4 L552.5,182.5 L552.9,182.6 L553.8,182.9 L554.6,183.3 L555.0,183.6 L555.8,184.1 L556.6,184.8 L556.9,185.1 L557.6,185.8 L557.9,186.2 L558.5,186.9 L559.1,187.7 L559.4,188.1 L560.0,189.0 L560.5,189.8 L560.8,190.2 L561.3,191.1 L561.8,191.9 L562.1,192.4 L562.6,193.2 L563.1,194.1 L563.3,194.5 L563.8,195.4 L564.3,196.3 L564.5,196.7 L565.0,197.6 L565.5,198.5 L565.7,198.9 L566.2,199.8 L566.7,200.7 L566.9,201.1 L567.3,202.0 L567.8,202.9 L568.0,203.4 L568.5,204.2 L568.9,205.1 L569.2,205.6 L569.6,206.5 L570.0,207.4 L570.3,207.8 L570.7,208.7 L571.2,209.6 L571.4,210.1 L571.8,211.0 L572.3,211.9 L572.5,212.3 L572.9,213.2 L573.1,213.7 L573.6,214.6 L574.0,215.5 L574.2,215.9 L574.6,216.8 L575.0,217.7 L575.2,218.2 L575.6,219.1 L576.0,220.0 L576.2,220.5 L576.6,221.4 L577.0,222.3 L577.2,222.8 L577.6,223.7 L578.0,224.6 L578.2,225.1 L578.6,226.0 L579.0,226.9 L579.2,227.4 L579.6,228.3 L580.0,229.2 L580.3,229.6 L580.7,230.5 L581.2,231.4 L581.4,231.9 L581.9,232.7 L582.3,233.6 L582.6,234.0 L583.1,234.9 L583.7,235.7 L583.9,236.1 L584.5,237.0 L585.1,237.8 L585.4,238.2 L586.0,239.0 L586.6,239.7 L587.0,240.1 L587.6,240.9 L588.0,241.2 L588.7,241.9 L589.3,242.7 L589.7,243.0 L590.4,243.7 L591.1,244.4 L591.5,244.7 L592.3,245.4 L593.0,246.0 L593.4,246.4 L594.2,247.0 L595.0,247.6 L595.4,247.8 L596.2,248.4 L597.1,248.9 L597.5,249.2 L598.4,249.7 L599.2,250.2 L599.7,250.4 L600.5,250.9 L601.4,251.3 L601.9,251.6 L602.8,252.0 L603.7,252.4 L604.2,252.6 L605.1,253.0 L606.0,253.4 L606.5,253.5 L607.4,253.9 L608.3,254.2 L608.8,254.4 L609.8,254.7 L610.7,255.1 L611.2,255.2 L612.1,255.5 L612.6,255.7 L613.6,255.9 L614.5,256.2 L615.0,256.4 L616.0,256.6 L616.9,256.9 L617.4,257.0 L618.4,257.3 L619.4,257.5 L619.8,257.6 L620.8,257.8 L621.8,258.1 L622.3,258.2 L623.3,258.4 L624.2,258.6 L624.7,258.7 L625.7,258.9 L626.7,259.0 L627.2,259.1 L628.2,259.2 L629.2,259.4 L629.7,259.4 L630.7,259.5 L631.7,259.6 L632.2,259.7 L633.1,259.8 L634.1,259.9 L634.6,259.9 L635.6,260.0 L636.6,260.0 L637.1,260.1 L638.1,260.1 L639.1,260.2 L639.6,260.2 L640.6,260.3 L641.6,260.3 L642.1,260.3 L643.1,260.4 L643.6,260.4 L644.6,260.5 L645.6,260.5 L646.1,260.5 L647.1,260.5 L648.1,260.6 L648.6,260.6 L649.6,260.6 L650.6,260.6 L651.1,260.6 L652.1,260.6 L653.1,260.7 L653.6,260.7 L654.6,260.7 L655.6,260.7 L656.1,260.7 L657.1,260.7 L658.1,260.7 L658.6,260.7 L659.6,260.8 L660.6,260.8 L661.1,260.8 L662.1,260.8 L663.1,260.8 L663.6,260.8 L664.6,260.8 L665.6,260.9 L666.1,260.9 L667.1,260.9 L668.1,260.9 L668.6,260.9 L669.6,260.9 L670.6,260.9 L671.1,260.9 L672.1,260.9 L673.1,261.0 L673.6,261.0 L674.6,261.0 L675.1,261.0 L676.1,261.0 L677.1,261.0 L677.6,261.0 L678.6,261.0 L679.6,261.0 L680.1,261.0 L681.1,261.0 L682.1,261.0 L682.6,261.0 L683.6,261.0 L684.6,261.0 L685.1,261.0 L686.1,261.0 L687.1,261.0 L687.6,261.0 L688.6,261.0 L689.6,261.0 L690.1,261.0 L691.1,261.0 L692.1,261.0 L692.6,261.0 L693.6,261.0 L694.6,261.0 L695.1,261.0 L696.1,261.0 L697.1,261.0 L697.6,261.1 L698.6,261.1 L699.6,261.1 L700.1,261.1 L701.1,261.1 L702.1,261.1 L702.6,261.1 L703.6,261.1 L704.6,261.1 L705.1,261.1 L706.1,261.1 L706.6,261.1 L707.6,261.1 L708.6,261.1 L709.1,261.1 L710.1,261.1 L711.1,261.1 L711.6,261.1 L712.6,261.1 L713.6,261.1 L714.1,261.1 L715.1,261.1 L716.1,261.1 L716.6,261.1 L717.6,261.1 L718.6,261.1 L719.1,261.1 L720.1,261.1 L721.1,261.1 L721.6,261.1 L722.6,261.1 L723.6,261.1 L724.1,261.1 L725.1,261.1 L726.1,261.1 L726.6,261.1 L727.6,261.1 L728.6,261.1 L729.1,261.1 L730.1,261.1 L731.1,261.1 L731.6,261.1 L732.6,261.1 L733.6,261.1 L734.1,261.1 L735.1,261.1 L736.1,261.1 L736.6,261.1 L737.6,261.1 L738.1,261.1 L739.1,261.1 L740.1,261.1 L740.6,261.1 L741.6,261.1 L742.6,261.1 L743.1,261.1 L744.1,261.1 L745.1,261.1 L745.6,261.1 L746.6,261.1 L747.6,261.1 L748.1,261.1 L749.1,261.1 L750.1,261.1 L750.6,261.1 L751.6,261.1 L752.6,261.1 L753.1,261.1 L754.1,261.1 L755.1,261.1 L755.6,261.1 L756.6,261.1 L757.6,261.2 L758.1,261.2 L759.1,261.2 L760.1,261.2 L760.6,261.2 L761.6,261.2 L762.6,261.2 L763.1,261.2 L764.1,261.2 L765.1,261.2 L765.6,261.2 L766.6,261.2 L767.1,261.2 L768.1,261.2 L769.1,261.2 L769.6,261.2 L770.6,261.2 L771.6,261.2 L772.1,261.2 L773.1,261.2 L774.1,261.2 L774.6,261.2 L775.6,261.2 L776.6,261.2 L777.1,261.2 L778.1,261.2 L779.1,261.2 L779.6,261.2 L780.6,261.2 L781.6,261.2 L782.1,261.2 L783.1,261.2 L784.1,261.2 L784.6,261.2 L785.6,261.2 L786.6,261.2 L787.1,261.2 L788.1,261.2 L789.1,261.2 L789.6,261.2 L790.6,261.2 L791.6,261.2 L792.1,261.2 L793.1,261.2 L794.1,261.2 L794.6,261.2 L795.6,261.2 L796.6,261.2 L797.1,261.2 L798.1,261.2 L798.6,261.2 L799.6,261.2 L800.6,261.2 L801.1,261.2 L802.1,261.2 L803.1,261.2 L803.6,261.2 L804.6,261.2 L805.6,261.2 L806.1,261.2 L807.1,261.2 L808.1,261.2 L808.6,261.2 L809.6,261.2 L810.6,261.2 L811.1,261.2 L812.1,261.2 L813.1,261.2 L813.6,261.2 L814.6,261.2 L815.6,261.2 L816.1,261.2 L817.1,261.2 L818.1,261.2 L818.6,261.2 L819.6,261.2 L820.6,261.2 L821.1,261.2 L822.1,261.2 L823.1,261.2 L823.6,261.2 L824.6,261.2 L825.6,261.2 L826.1,261.2 L827.1,261.2 L828.1,261.2 L828.6,261.2 L829.6,261.2 L830.1,261.2 L831.1,261.2 L832.1,261.2 L832.6,261.2 L833.6,261.2 L834.6,261.2 L835.1,261.2 L836.1,261.2 L837.1,261.2 L837.6,261.2 L838.6,261.2 L839.6,261.2 L840.1,261.2 L841.1,261.2 L842.1,261.2 L842.6,261.2 L843.6,261.2 L844.6,261.2 L845.1,261.2 L846.1,261.2 L847.1,261.2 L847.6,261.2 L848.6,261.2 L849.6,261.2 L850.1,261.2 L851.1,261.2 L852.1,261.2 L852.6,261.2 L853.6,261.2 L854.6,261.2 L855.1,261.2 L856.1,261.3 L857.1,261.3 L857.6,261.3 L858.6,261.3 L859.6,261.3 L860.1,261.3 L861.1,261.3 L861.6,261.3 L862.6,261.3 L863.6,261.3 L864.1,261.3 L865.1,261.3 L866.1,261.3 L866.6,261.3 L867.6,261.3 L868.6,261.3 L869.1,261.3 L870.1,261.3 L871.1,261.3 L871.6,261.3 L872.6,261.3 L873.6,261.3 L874.1,261.3 L875.1,261.3 L876.1,261.3 L876.6,261.3 L877.6,261.3 L878.6,261.3 L879.1,261.3 L880.1,261.3 L881.1,261.3 L881.6,261.3 L882.6,261.3 L883.6,261.3 L884.1,261.3 L885.1,261.3 L886.1,261.3 L886.6,261.3 L887.6,261.3 L888.6,261.3 L889.1,261.3 L890.1,261.3 L891.1,261.3 L891.6,261.3 L892.6,261.3 L893.1,261.3 L894.1,261.3 L895.1,261.3 L895.6,261.3 L896.6,261.3 L897.6,261.3 L898.1,261.3 L899.1,261.3 L900.1,261.3 L900.6,261.3 L901.6,261.3 L902.6,261.3 L903.1,261.3 L904.1,261.3 L905.1,261.3 L905.6,261.3 L906.6,261.3 L907.6,261.3 L908.1,261.3 L909.1,261.3 L910.1,261.3 L910.6,261.3 L911.6,261.3 L912.6,261.3 L913.1,261.3 L914.1,261.3 L915.1,261.3 L915.6,261.3 L916.6,261.3 L917.6,261.3 L918.0,261.3 L918.9,261.3 L919.8,261.3 L920.2,261.3 L920.9,261.3 L921.4,261.3" stroke="#e3121b" stroke-width="2.4"/></g><path d="M492.7,21.0V264.3H923.8" stroke="#000" stroke-width="2.3" fill="none"/><path d="M492.9,263.8h11 M492.9,213.1h6 M492.9,162.4h11 M492.9,111.7h6 M492.9,61.0h11 M492.9,263.8v-11 M572.6,263.8v-6 M652.4,263.8v-11 M732.1,263.8v-6 M811.9,263.8v-11 M891.6,263.8v-6" stroke="#000" stroke-width="1.9" fill="none"/><text x="483.3" y="69.3" text-anchor="end" font-family='"Liberation Sans", sans-serif' font-size="26.8">1.0</text><text x="483.3" y="171.4" text-anchor="end" font-family='"Liberation Sans", sans-serif' font-size="26.8">0.5</text><text x="483.3" y="272.8" text-anchor="end" font-family='"Liberation Sans", sans-serif' font-size="26.8">0.0</text><text x="493.25" y="296.2" text-anchor="middle" font-family='"Liberation Sans", sans-serif' font-size="26.8">0</text><text x="651.8" y="296.2" text-anchor="middle" font-family='"Liberation Sans", sans-serif' font-size="26.8">1</text><text x="812.2" y="296.2" text-anchor="middle" font-family='"Liberation Sans", sans-serif' font-size="26.8">2</text><text x="539.7" y="335.2" font-family='"Liberation Sans", sans-serif' font-size="27">Electron density (10</text><text x="780.8" y="321.9" font-family='"Liberation Sans", sans-serif' font-size="17">1</text><text x="793.5" y="321.9" font-family='"Liberation Sans", sans-serif' font-size="17">1</text><text x="812.5" y="335.2" font-family='"Liberation Sans", sans-serif' font-size="27">cm</text><rect x="849.2" y="315.3" width="11.1" height="1.3" fill="#000"/><text x="860.1" y="322.2" font-family='"Liberation Sans", sans-serif' font-size="17">2</text><text x="873.8" y="335.2" font-family='"Liberation Sans", sans-serif' font-size="27">)</text><text transform="translate(415.5,268.5) rotate(-90)" font-family='"Liberation Sans", sans-serif' font-size="26" textLength="118.5" lengthAdjust="spacing">Re(<tspan font-style="italic">C</tspan>/<tspan font-style="italic">C</tspan><tspan font-size="18" dy="6.5">0</tspan><tspan dy="-6.5">),</tspan></text><text transform="translate(415.5,141.2) rotate(-90)" font-family='"Liberation Sans", sans-serif' font-size="26" textLength="106.5" lengthAdjust="spacing">Im(<tspan font-style="italic">C</tspan>/<tspan font-style="italic">C</tspan><tspan font-size="18" dy="6.5">0</tspan><tspan dy="-6.5">)</tspan></text></svg>
</body></html>
